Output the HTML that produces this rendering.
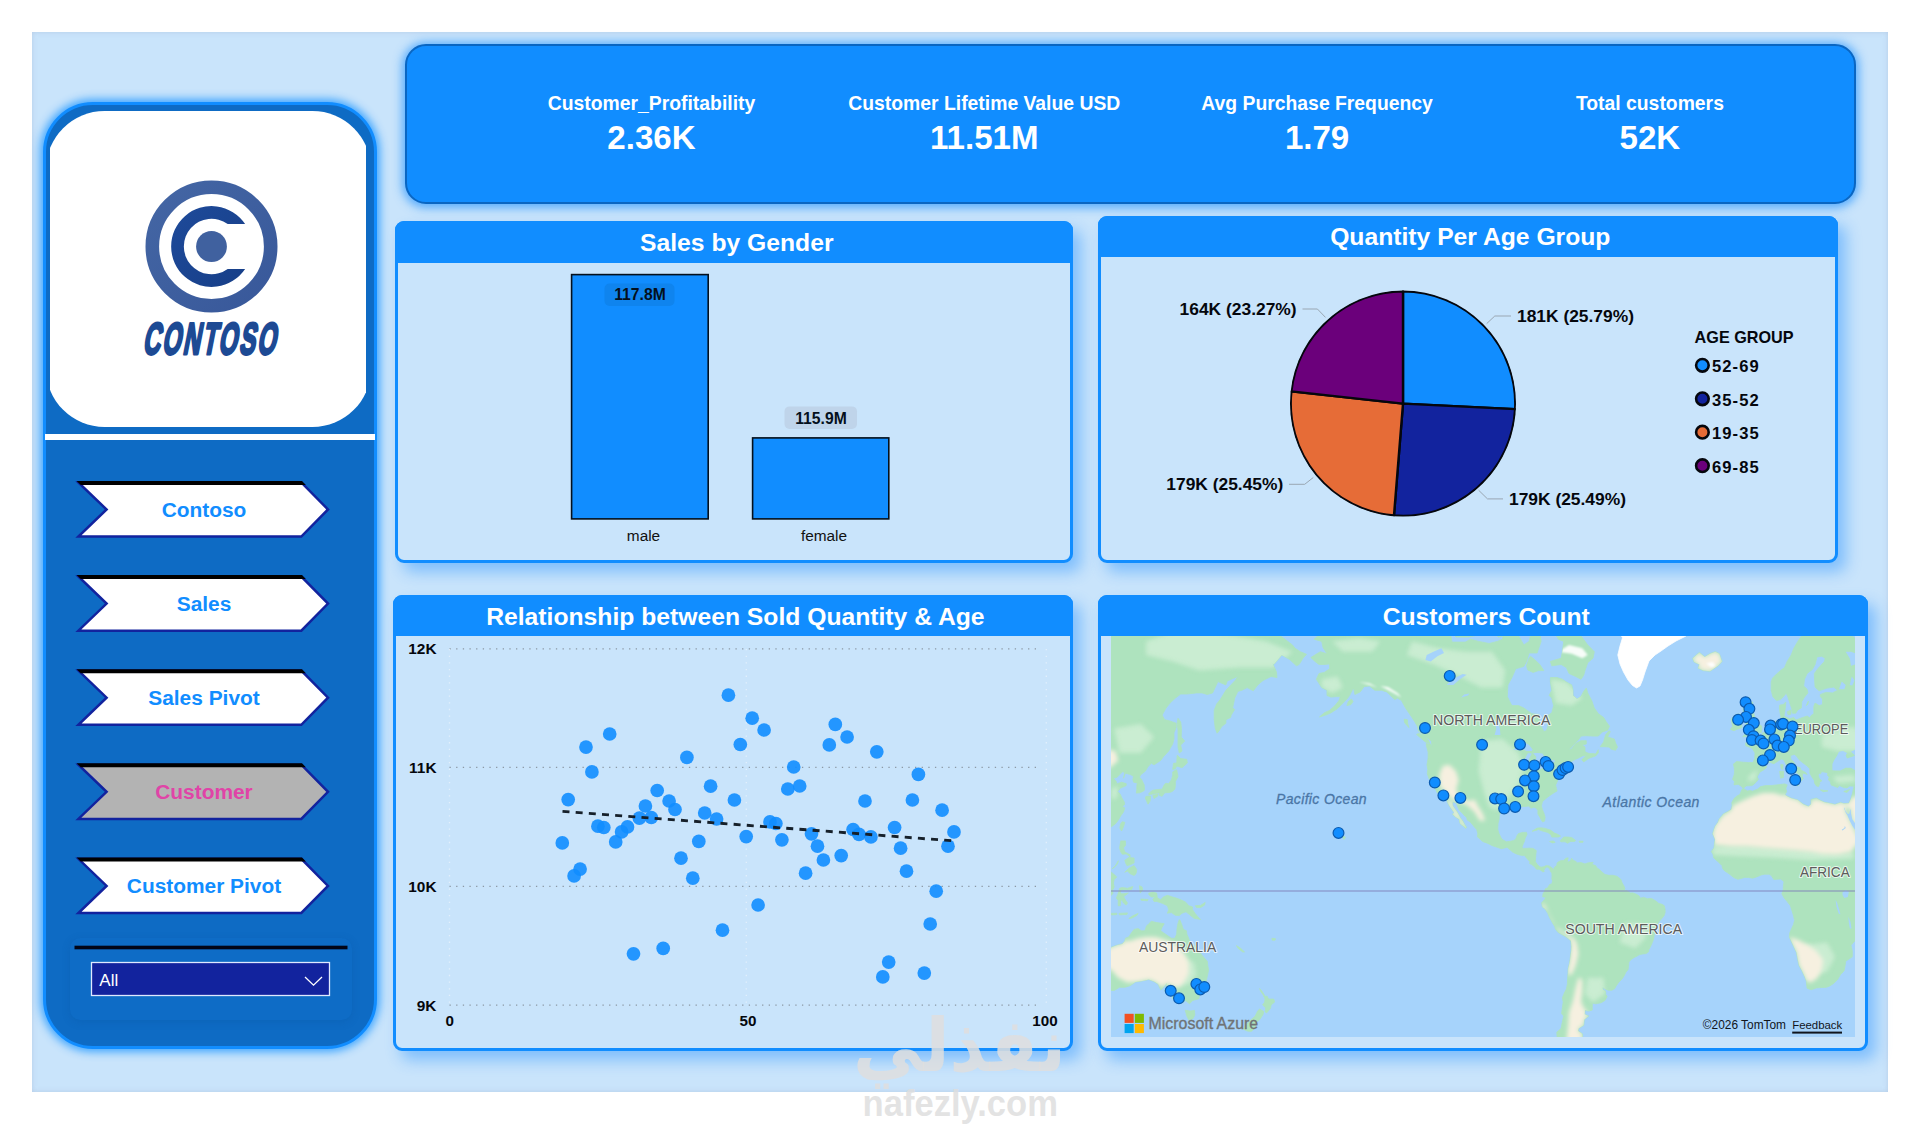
<!DOCTYPE html><html lang="en"><head><meta charset="utf-8"><title>Contoso Customer Dashboard</title>
<style>
*{box-sizing:border-box}
html,body{margin:0;padding:0;background:#fff}
body{width:1920px;height:1124px;position:relative;overflow:hidden;font-family:"Liberation Sans", sans-serif}
.abs{position:absolute}
#panel{left:32px;top:32px;width:1856px;height:1060px;background:#c9e4fb;box-shadow:inset 0 0 5px rgba(150,160,195,.35)}
#side{left:43px;top:102px;width:334px;height:947px;border-radius:50px;background:#0e6bc4;border:3px solid #118DFF;box-shadow:0 0 9px 3px rgba(50,160,255,.9)}
#logo{left:50px;top:111px;width:316px;height:316px;overflow:hidden}
#logo i{position:absolute;left:-4.5px;top:0;width:325px;height:316px;border-radius:58.5px;background:#fff;display:block}
#wline{left:45px;top:434px;width:330px;height:6px;background:#fff}
#slbg{left:70px;top:938px;width:282px;height:82px;border-radius:10px;background:rgba(20,120,215,.10);box-shadow:0 2px 8px rgba(6,70,140,.18)}
#kpi{left:405px;top:44px;width:1451px;height:160px;border-radius:21px;background:#118DFF;border:2px solid #0a66c2;box-shadow:0 1px 10px 3px rgba(40,150,255,.7)}
.card{border:3px solid #118DFF;border-radius:9px;background:#c9e4fb;box-shadow:8px 9px 15px 0 rgba(40,145,255,.46)}
.card b{position:absolute;left:-3px;top:-3px;right:-3px;display:block;background:#118DFF;border-radius:9px 9px 0 0}
</style></head><body>
<div id="panel" class="abs"></div>
<div id="side" class="abs"></div>
<div id="logo" class="abs"><i></i></div>
<div id="wline" class="abs"></div>
<div id="slbg" class="abs"></div>
<div id="kpi" class="abs"></div>
<div class="abs card" style="left:395px;top:221px;width:678px;height:342px"><b style="height:41.5px"></b></div>
<div class="abs card" style="left:1098px;top:216px;width:740px;height:347px"><b style="height:41px"></b></div>
<div class="abs card" style="left:393px;top:595px;width:680px;height:456px"><b style="height:40.5px"></b></div>
<div class="abs card" style="left:1098px;top:595px;width:770px;height:456px"><b style="height:40.5px"></b></div>
<svg width="1920" height="1124" viewBox="0 0 1920 1124" style="position:absolute;left:0;top:0" font-family='"Liberation Sans", sans-serif'>
<defs>
<linearGradient id="ring" x1="0" y1="0" x2="1" y2="1"><stop offset="0" stop-color="#4466a4"/><stop offset="1" stop-color="#38589a"/></linearGradient>
<linearGradient id="cee" x1="0" y1="0" x2="1" y2="1"><stop offset="0" stop-color="#1e4a9a"/><stop offset="1" stop-color="#173f88"/></linearGradient>
</defs>
<g id="logo">
<circle cx="211.5" cy="246.5" r="59.2" fill="none" stroke="url(#ring)" stroke-width="13.6"/>
<path d="M245.1 224A40.4 40.4 0 1 0 245.1 269L227.7 269A27.7 27.7 0 1 1 227.7 224Z" fill="url(#cee)"/>
<circle cx="211.5" cy="246.5" r="15.4" fill="#40619f"/>
<g transform="translate(209.7 353.9) skewX(-11) scale(0.535 1)"><text x="0" y="0" font-size="44.5" font-weight="bold" fill="#1d4a94" stroke="#1d4a94" stroke-width="2.4" vector-effect="non-scaling-stroke" stroke-linejoin="round" text-anchor="middle" letter-spacing="4">CONTOSO</text></g>
</g>
<g id="nav">
<polygon points="78.4,482.4 301.3,482.4 328,509.5 301.3,536.6 78.4,536.6 106.6,509.5" fill="#ffffff" stroke="#12239E" stroke-width="2.5" stroke-linejoin="miter"/>
<polygon points="76.6,481 302,481 305.8,485 80.8,485" fill="#000"/>
<text x="204" y="517" font-size="20.9" font-weight="bold" fill="#118DFF" text-anchor="middle" >Contoso</text>
<polygon points="78.4,576.5 301.3,576.5 328,603.6 301.3,630.7 78.4,630.7 106.6,603.6" fill="#ffffff" stroke="#12239E" stroke-width="2.5" stroke-linejoin="miter"/>
<polygon points="76.6,575.1 302,575.1 305.8,579.1 80.8,579.1" fill="#000"/>
<text x="204" y="611.1" font-size="20.9" font-weight="bold" fill="#118DFF" text-anchor="middle" >Sales</text>
<polygon points="78.4,670.6 301.3,670.6 328,697.7 301.3,724.8 78.4,724.8 106.6,697.7" fill="#ffffff" stroke="#12239E" stroke-width="2.5" stroke-linejoin="miter"/>
<polygon points="76.6,669.2 302,669.2 305.8,673.2 80.8,673.2" fill="#000"/>
<text x="204" y="705.2" font-size="20.9" font-weight="bold" fill="#118DFF" text-anchor="middle" >Sales Pivot</text>
<polygon points="78.4,764.7 301.3,764.7 328,791.8 301.3,818.9 78.4,818.9 106.6,791.8" fill="#b3b3b3" stroke="#12239E" stroke-width="2.5" stroke-linejoin="miter"/>
<polygon points="76.6,763.3 302,763.3 305.8,767.3 80.8,767.3" fill="#000"/>
<text x="204" y="799.3" font-size="20.9" font-weight="bold" fill="#E044A7" text-anchor="middle" >Customer</text>
<polygon points="78.4,858.8 301.3,858.8 328,885.9 301.3,913 78.4,913 106.6,885.9" fill="#ffffff" stroke="#12239E" stroke-width="2.5" stroke-linejoin="miter"/>
<polygon points="76.6,857.4 302,857.4 305.8,861.4 80.8,861.4" fill="#000"/>
<text x="204" y="893.4" font-size="20.9" font-weight="bold" fill="#118DFF" text-anchor="middle" >Customer Pivot</text>
</g>
<g id="slicer">
<rect x="74.5" y="945.7" width="273" height="3.6" fill="#020618"/>
<rect x="91.5" y="962.5" width="238" height="33" fill="#12239E" stroke="#dfe9ff" stroke-width="1.3"/>
<text x="99.3" y="986.2" font-size="17" font-weight="normal" fill="#fff" text-anchor="start" >All</text>
<polyline points="305,977 313.5,985.2 322,977" fill="none" stroke="#fff" stroke-width="1.3"/>
</g>
<g id="kpi-cards">
<text x="651.5" y="110.2" font-size="19.35" font-weight="bold" fill="#fff" text-anchor="middle" >Customer_Profitability</text>
<text x="651.5" y="148.6" font-size="33.1" font-weight="bold" fill="#fff" text-anchor="middle" >2.36K</text>
<text x="984.3" y="110.2" font-size="19.35" font-weight="bold" fill="#fff" text-anchor="middle" >Customer Lifetime Value USD</text>
<text x="984.3" y="148.6" font-size="33.1" font-weight="bold" fill="#fff" text-anchor="middle" >11.51M</text>
<text x="1317.1" y="110.2" font-size="19.35" font-weight="bold" fill="#fff" text-anchor="middle" >Avg Purchase Frequency</text>
<text x="1317.1" y="148.6" font-size="33.1" font-weight="bold" fill="#fff" text-anchor="middle" >1.79</text>
<text x="1649.9" y="110.2" font-size="19.35" font-weight="bold" fill="#fff" text-anchor="middle" >Total customers</text>
<text x="1649.9" y="148.6" font-size="33.1" font-weight="bold" fill="#fff" text-anchor="middle" >52K</text>
</g>
<g id="chart-titles">
<text x="736.8" y="250.6" font-size="24.7" font-weight="bold" fill="#fff" text-anchor="middle" >Sales by Gender</text>
<text x="1470.3" y="245.2" font-size="24.7" font-weight="bold" fill="#fff" text-anchor="middle" >Quantity Per Age Group</text>
<text x="735.4" y="624.5" font-size="24.7" font-weight="bold" fill="#fff" text-anchor="middle" >Relationship between Sold Quantity &amp; Age</text>
<text x="1486.2" y="624.5" font-size="24.7" font-weight="bold" fill="#fff" text-anchor="middle" >Customers Count</text>
</g>
<g id="sales-by-gender">
<rect x="571.6" y="274.6" width="136.6" height="244.3" fill="#118DFF" stroke="#04101c" stroke-width="1.6"/>
<rect x="752.6" y="437.9" width="136.2" height="81" fill="#118DFF" stroke="#04101c" stroke-width="1.6"/>
<rect x="604.5" y="283.5" width="70" height="22.5" rx="5" fill="#0f84ee"/>
<rect x="784.5" y="406.4" width="72.5" height="22.5" rx="5" fill="#bfd4ea"/>
<text x="640" y="300.3" font-size="15.7" font-weight="bold" fill="#04101c" text-anchor="middle" >117.8M</text>
<text x="821" y="423.8" font-size="15.7" font-weight="bold" fill="#04101c" text-anchor="middle" >115.9M</text>
<text x="643.5" y="541" font-size="15.4" font-weight="normal" fill="#111" text-anchor="middle" >male</text>
<text x="824" y="541" font-size="15.4" font-weight="normal" fill="#111" text-anchor="middle" >female</text>
</g>
<g id="quantity-per-age-group">
<clipPath id="pieclip"><circle cx="1403.0" cy="403.6" r="113"/></clipPath><g clip-path="url(#pieclip)">
<path d="M1403 403.6L1403.00 291.30A112.3 112.3 0 0 1 1515.16 409.17Z" fill="#118DFF" stroke="#05070d" stroke-width="2.4" stroke-linejoin="round"/>
<path d="M1403 403.6L1515.16 409.17A112.3 112.3 0 0 1 1393.98 515.54Z" fill="#12239E" stroke="#05070d" stroke-width="2.4" stroke-linejoin="round"/>
<path d="M1403 403.6L1393.98 515.54A112.3 112.3 0 0 1 1291.36 391.42Z" fill="#E66C37" stroke="#05070d" stroke-width="2.4" stroke-linejoin="round"/>
<path d="M1403 403.6L1291.36 391.42A112.3 112.3 0 0 1 1403.00 291.30Z" fill="#6B007B" stroke="#05070d" stroke-width="2.4" stroke-linejoin="round"/>
</g>
<polyline points="1486.7,323.6 1494.8,316 1511,316" fill="none" stroke="#9aa7b3" stroke-width="1"/>
<polyline points="1325.5,317.4 1317.4,309 1302.5,309" fill="none" stroke="#9aa7b3" stroke-width="1"/>
<polyline points="1313.3,477.5 1304.7,484.3 1289,484.3" fill="none" stroke="#9aa7b3" stroke-width="1"/>
<polyline points="1478.6,490.2 1487.5,498.9 1503,498.9" fill="none" stroke="#9aa7b3" stroke-width="1"/>
<text x="1517" y="321.8" font-size="17.4" font-weight="bold" fill="#05070d" text-anchor="start" >181K (25.79%)</text>
<text x="1509" y="505.1" font-size="17.4" font-weight="bold" fill="#05070d" text-anchor="start" >179K (25.49%)</text>
<text x="1296.6" y="315" font-size="17.4" font-weight="bold" fill="#05070d" text-anchor="end" >164K (23.27%)</text>
<text x="1283.3" y="490.2" font-size="17.4" font-weight="bold" fill="#05070d" text-anchor="end" >179K (25.45%)</text>
<text x="1694.6" y="343.3" font-size="16.2" font-weight="bold" fill="#05070d" text-anchor="start" >AGE GROUP</text>
<circle cx="1702.4" cy="365.3" r="6.3" fill="#118DFF" stroke="#05070d" stroke-width="2.6"/>
<text x="1712" y="372.1" font-size="16.6" font-weight="bold" fill="#05070d" text-anchor="start" letter-spacing="1.05">52-69</text>
<circle cx="1702.4" cy="398.8" r="6.3" fill="#12239E" stroke="#05070d" stroke-width="2.6"/>
<text x="1712" y="405.6" font-size="16.6" font-weight="bold" fill="#05070d" text-anchor="start" letter-spacing="1.05">35-52</text>
<circle cx="1702.4" cy="432.2" r="6.3" fill="#E66C37" stroke="#05070d" stroke-width="2.6"/>
<text x="1712" y="439" font-size="16.6" font-weight="bold" fill="#05070d" text-anchor="start" letter-spacing="1.05">19-35</text>
<circle cx="1702.4" cy="465.7" r="6.3" fill="#6B007B" stroke="#05070d" stroke-width="2.6"/>
<text x="1712" y="472.5" font-size="16.6" font-weight="bold" fill="#05070d" text-anchor="start" letter-spacing="1.05">69-85</text>
</g>
<g id="sold-quantity-vs-age">
<line x1="449.5" y1="648.8" x2="1041" y2="648.8" stroke="#8c98a4" stroke-width="1.3" stroke-dasharray="1.3 5.35"/>
<line x1="449.5" y1="767.4" x2="1041" y2="767.4" stroke="#8c98a4" stroke-width="1.3" stroke-dasharray="1.3 5.35"/>
<line x1="449.5" y1="886.4" x2="1041" y2="886.4" stroke="#8c98a4" stroke-width="1.3" stroke-dasharray="1.3 5.35"/>
<line x1="449.5" y1="1005.2" x2="1041" y2="1005.2" stroke="#8c98a4" stroke-width="1.3" stroke-dasharray="1.3 5.35"/>
<line x1="449.5" y1="649" x2="449.5" y2="1005" stroke="#e9f3fd" stroke-width="1.3" stroke-dasharray="1.3 5.35" opacity="0.8"/>
<line x1="746.3" y1="649" x2="746.3" y2="1005" stroke="#e9f3fd" stroke-width="1.3" stroke-dasharray="1.3 5.35" opacity="0.8"/>
<line x1="1046.3" y1="649" x2="1046.3" y2="1005" stroke="#e9f3fd" stroke-width="1.3" stroke-dasharray="1.3 5.35" opacity="0.8"/>
<text x="436.5" y="654.4" font-size="15.4" font-weight="bold" fill="#05070d" text-anchor="end" >12K</text>
<text x="436.5" y="773" font-size="15.4" font-weight="bold" fill="#05070d" text-anchor="end" >11K</text>
<text x="436.5" y="892" font-size="15.4" font-weight="bold" fill="#05070d" text-anchor="end" >10K</text>
<text x="436.5" y="1010.8" font-size="15.4" font-weight="bold" fill="#05070d" text-anchor="end" >9K</text>
<text x="449.8" y="1025.8" font-size="15.2" font-weight="bold" fill="#05070d" text-anchor="middle" >0</text>
<text x="748" y="1025.8" font-size="15.2" font-weight="bold" fill="#05070d" text-anchor="middle" >50</text>
<text x="1045" y="1025.8" font-size="15.2" font-weight="bold" fill="#05070d" text-anchor="middle" >100</text>
<g fill="#118DFF" fill-opacity="0.9">
<circle cx="728.4" cy="695.2" r="6.85"/>
<circle cx="752.2" cy="718.2" r="6.85"/>
<circle cx="764.1" cy="730" r="6.85"/>
<circle cx="740.3" cy="744.5" r="6.85"/>
<circle cx="609.7" cy="734" r="6.85"/>
<circle cx="586" cy="747.1" r="6.85"/>
<circle cx="686.9" cy="757.4" r="6.85"/>
<circle cx="591.9" cy="771.9" r="6.85"/>
<circle cx="710.6" cy="786.2" r="6.85"/>
<circle cx="657.2" cy="790.5" r="6.85"/>
<circle cx="568.2" cy="799.6" r="6.85"/>
<circle cx="669.1" cy="801" r="6.85"/>
<circle cx="734.4" cy="800" r="6.85"/>
<circle cx="787.8" cy="789" r="6.85"/>
<circle cx="793.7" cy="767" r="6.85"/>
<circle cx="645.4" cy="806" r="6.85"/>
<circle cx="675" cy="809.5" r="6.85"/>
<circle cx="704.7" cy="813" r="6.85"/>
<circle cx="639.4" cy="818.2" r="6.85"/>
<circle cx="651.3" cy="817.5" r="6.85"/>
<circle cx="716.6" cy="819" r="6.85"/>
<circle cx="770" cy="821.9" r="6.85"/>
<circle cx="775.9" cy="823.5" r="6.85"/>
<circle cx="746.2" cy="836.6" r="6.85"/>
<circle cx="781.9" cy="839.8" r="6.85"/>
<circle cx="698.8" cy="841.4" r="6.85"/>
<circle cx="597.9" cy="826.2" r="6.85"/>
<circle cx="603.8" cy="827.5" r="6.85"/>
<circle cx="627.5" cy="826.9" r="6.85"/>
<circle cx="621.6" cy="831.9" r="6.85"/>
<circle cx="615.7" cy="841.9" r="6.85"/>
<circle cx="562.3" cy="842.9" r="6.85"/>
<circle cx="681" cy="858.2" r="6.85"/>
<circle cx="580.1" cy="869.1" r="6.85"/>
<circle cx="574.1" cy="875.9" r="6.85"/>
<circle cx="692.8" cy="878.2" r="6.85"/>
<circle cx="758.1" cy="905" r="6.85"/>
<circle cx="722.5" cy="930.2" r="6.85"/>
<circle cx="663.2" cy="948.4" r="6.85"/>
<circle cx="633.5" cy="953.8" r="6.85"/>
<circle cx="835.3" cy="724.4" r="6.85"/>
<circle cx="847.1" cy="737" r="6.85"/>
<circle cx="829.3" cy="744.9" r="6.85"/>
<circle cx="876.8" cy="751.8" r="6.85"/>
<circle cx="918.4" cy="774.4" r="6.85"/>
<circle cx="799.7" cy="786" r="6.85"/>
<circle cx="865" cy="801" r="6.85"/>
<circle cx="912.4" cy="800" r="6.85"/>
<circle cx="942.1" cy="810.2" r="6.85"/>
<circle cx="811.5" cy="833.8" r="6.85"/>
<circle cx="853.1" cy="829.5" r="6.85"/>
<circle cx="859" cy="834.4" r="6.85"/>
<circle cx="870.9" cy="836.9" r="6.85"/>
<circle cx="894.6" cy="827.5" r="6.85"/>
<circle cx="954" cy="831.9" r="6.85"/>
<circle cx="948" cy="846.2" r="6.85"/>
<circle cx="900.6" cy="848.2" r="6.85"/>
<circle cx="817.5" cy="846.2" r="6.85"/>
<circle cx="823.4" cy="860" r="6.85"/>
<circle cx="841.2" cy="855.6" r="6.85"/>
<circle cx="805.6" cy="873.2" r="6.85"/>
<circle cx="906.5" cy="871.2" r="6.85"/>
<circle cx="936.2" cy="891.2" r="6.85"/>
<circle cx="930.2" cy="924" r="6.85"/>
<circle cx="888.7" cy="962.1" r="6.85"/>
<circle cx="882.8" cy="976.9" r="6.85"/>
<circle cx="924.3" cy="973.1" r="6.85"/>
</g>
<line x1="562.5" y1="811.3" x2="953.5" y2="840.9" stroke="#16202a" stroke-width="2.8" stroke-dasharray="7 6.2"/>
</g>
<g id="customers-count-map">
<clipPath id="mapclip"><rect x="1111" y="636" width="744" height="401"/></clipPath>
<clipPath id="landclip"><path d="M1310.8 657.6L1320.3 651.7L1327 653.7L1323 647.6L1321.7 641.4L1314.2 639.2L1324.3 630.4L1341.6 616.1L1358.9 622.6L1382.8 628.8L1398.8 631.9L1417.4 624.9L1425.4 630.4L1438.7 631.1L1450.7 634.8L1452 642.1L1465.3 642.1L1470.6 639.2L1478.6 641.4L1489.2 643.5L1497.2 641.4L1502.5 639.2L1507.9 611.9L1513.2 630.4L1518.5 635.6L1523.8 644.9L1529.1 641.4L1531.8 630.4L1539.8 630.4L1541.1 641.4L1537.1 653L1529.1 653L1526.5 661.4L1523.8 666.4L1515.8 668.8L1511.9 677.6L1507.9 684.9L1507.3 696.6L1510.5 703.1L1511.9 705.6L1518.5 705.6L1523.8 708L1531.8 713.7L1539 714.6L1539.8 724.1L1542.4 728.5L1543.8 731.5L1546.4 730.7L1547.8 726.3L1548.3 719.7L1546.4 716.5L1551.8 712.8L1553.6 705.6L1551.8 698.1L1549.1 695.5L1551.8 690.3L1550.4 682.1L1550.4 677.6L1557.1 677.6L1562.4 679.3L1566.4 682.1L1571.7 684.9L1573 690.3L1573 695.5L1577 699.1L1581 696.6L1583.7 691.3L1586.3 688.1L1587.7 692.9L1591.7 700.6L1594.3 708L1598.3 713.7L1603.6 717.4L1606.3 721.9L1609.5 726.3L1607.6 730.2L1602.3 731.9L1598.3 736.1L1593 736.1L1586.3 735.7L1581 736.1L1578.4 739.8L1574.4 743.9L1570.4 748.2L1568.5 749.8L1571.7 749L1575.7 743.5L1581 740.7L1586.3 740.7L1586.3 743.9L1582.3 745.1L1585 747.1L1585 751.7L1587.7 752.9L1589 753.6L1593 753.6L1595.6 754L1598.3 749.8L1598.3 752.9L1595.6 755.9L1589 758.2L1583.7 761.9L1581.8 759.7L1586.3 755.5L1582.3 755.9L1579.7 757.4L1575.7 759.3L1571.7 761.1L1569.8 764.1L1569.6 765.9L1571.7 767.7L1571.7 768.7L1569 769.5L1566.4 770.2L1561.9 771.6L1561.1 772.6L1561.1 774.7L1559.7 777.1L1558.4 778.5L1557.1 776.5L1558.1 779.2L1557.1 781.9L1555.7 784.9L1555.7 785.3L1556.5 788.9L1557.1 790.9L1554.4 792.5L1551 794.7L1547.8 797L1545.1 799.2L1542.4 801.7L1541.4 805.7L1542.4 809.7L1543.8 812.8L1545.1 817L1544.6 821.1L1542.7 822L1541.1 819.6L1539.8 817L1537.9 814L1537.9 810.3L1535.8 807.9L1533.7 807.3L1531 808.2L1528.6 806.1L1525.2 806.4L1522.5 806.4L1520.1 807L1520.6 809.7L1518 810L1514.5 808.8L1510.5 808.2L1506.5 808.8L1504.4 810.6L1501.2 812.5L1499.3 814.6L1499.1 819.3L1498 823.7L1497.8 829.5L1499.1 833.8L1501.2 838.1L1503.1 840.1L1506.5 841.8L1510.5 841.2L1513.7 840.6L1515.8 838.9L1517.2 835.3L1518.5 833.6L1522.5 832.4L1526.5 832.4L1527 834.4L1525.2 838.1L1524.4 841.5L1523.3 843.7L1522 847L1522.5 848.4L1525.2 848.4L1529.1 848.2L1533.1 848.4L1536.3 850.6L1535.8 854.8L1535.5 858.8L1535.3 861.6L1537.1 864.3L1539.2 866.4L1541.1 867.2L1543.8 866.7L1546.2 865.6L1549.1 865.9L1551.8 867.8L1553.6 869.7L1554.4 867.2L1556.8 865.6L1557.1 862.9L1558.9 861.6L1560.5 860.7L1563.7 860.5L1565.8 858.3L1568.2 857.8L1567.7 859.9L1567.2 862.1L1569 861.8L1570.9 860.2L1571.7 858.3L1573 860.2L1576.2 861.6L1576.5 862.9L1581 862.6L1585 864L1587.7 862.9L1591.7 862.4L1593.2 862.4L1591.7 864.3L1595.6 865.6L1597 868L1598.8 869.1L1602.3 872.3L1605 874.5L1608.9 875.3L1612.9 875.3L1616.9 876.3L1619.6 878.2L1620.9 879.6L1622.2 883L1624.1 886.2L1624.9 888.9L1623.6 891L1626.2 890.5L1628.9 891.8L1630.2 892.9L1632.9 892.9L1636.9 894.5L1639.5 896.3L1640.1 898.2L1643.5 897.4L1647.5 898.7L1651.5 898.5L1655.5 900.8L1658.9 903.5L1662.1 904.3L1664.3 905.7L1665.1 909.7L1665.1 912.6L1664 915.8L1661.3 919.1L1658.9 921.8L1656.8 925.1L1654.7 927.2L1654.2 931.4L1654.2 935.5L1653.6 939.1L1652.3 942.5L1650.7 946.2L1648.8 949.6L1648.8 951.6L1646.2 953.6L1642.7 953.9L1639 954.8L1636.9 956.2L1634.2 957.4L1630.8 959.7L1628.9 962.1L1628.6 965.6L1628.1 969.5L1625.7 972.6L1624.1 975.9L1621.7 979.4L1619 981.9L1615.9 986.3L1614.8 988.6L1611.9 990.2L1608.4 990.2L1605 988.9L1602.6 987.3L1602.8 989.5L1605.5 991.1L1605.7 994.4L1607.1 996.4L1605 1000.4L1601 1002.8L1595.6 1003.8L1592.4 1003.1L1592.2 1007.3L1592.2 1010.1L1588.2 1011.1L1585 1010.1L1584.7 1014.3L1588.7 1016.1L1586.3 1017.9L1584.2 1019.8L1583.7 1025.3L1578.6 1028.4L1578.1 1031L1582.3 1033.8L1582.6 1036.9L1578.4 1042.2L1575.7 1045.9L1573.8 1049.2L1576 1054.8L1574.4 1062.3L1566.4 1062.3L1558.4 1053.5L1557.1 1036.9L1556.8 1032.2L1561.1 1028.4L1562.4 1021.6L1563.7 1016.1L1561.6 1013.6L1562.4 1007.3L1563.2 1002.1L1562.4 997.7L1564.3 993.1L1566.4 988.9L1567.4 984.1L1567.7 977.8L1568 973.2L1568.2 968.6L1569.3 964.1L1570.1 959.7L1570.6 955.3L1571.2 951L1571.4 946.7L1570.9 940.8L1568.2 938.6L1565.1 936.3L1561.1 934.1L1557.9 932.2L1555.2 928.6L1554.9 926.7L1552.8 923.4L1551.2 920.4L1549.6 917.7L1548 913.7L1546.4 911L1545.1 909.1L1542.4 907L1541.9 904.3L1541.6 902.7L1544 900.3L1545.1 899L1545.4 897.1L1542.7 896.9L1543 893.7L1544.8 891L1545.1 888.9L1547.8 887.8L1548.3 886.5L1549.9 884.3L1551.8 884.1L1552.5 880.9L1551.8 879L1552 876.3L1551.8 873.1L1550.7 871.8L1549.6 868.8L1547.8 867.2L1546.4 867.2L1544.6 868.8L1543.8 870.7L1544.3 871.5L1542.7 871.8L1541.1 870.5L1539 869.1L1537.4 869.4L1535.8 868.6L1535 867L1532.6 865.3L1531.5 864.3L1529.7 863.7L1529.9 861.6L1527.8 859.4L1525.2 856.4L1524.9 855.3L1522.5 855.6L1519 854.8L1515.8 853.7L1512.6 852L1509.2 849L1507.1 847.3L1503.9 848.2L1501.2 848.7L1497.2 847.3L1492.4 845.7L1487.9 843.4L1482.6 841.5L1479.9 838.9L1477.3 836.7L1477.8 833.8L1476.7 829.5L1474.6 827.2L1470.6 822.3L1467.2 819.9L1466.6 817.3L1464 815.2L1462.6 813.4L1459.4 810.3L1457.3 805.7L1456.5 803.3L1453.3 802L1452.5 802.6L1452.8 805.7L1456 810.3L1458.1 813.4L1460.5 817.9L1462.6 820.8L1464.5 824.3L1466.6 827.2L1465.6 828.4L1464 826.7L1460 823.5L1459.2 819.3L1455.5 817L1452.5 814.3L1454.1 812.5L1452 809.7L1449.9 806.7L1448 803.3L1446.4 799.5L1445.9 797.9L1443.2 795.7L1442.7 794.7L1440 793.4L1437.1 792.8L1436 789.9L1433.6 786.3L1432.3 783.3L1432.1 782.2L1430.7 780.6L1428.9 778.2L1427.3 773.7L1427.8 769.5L1427 764.8L1428.1 758.5L1428.1 752.1L1426.5 745.9L1426.2 743.5L1430.7 744.3L1432.1 747.1L1431.3 741.1L1429.9 739.8L1425.9 737L1421.4 733.6L1418.2 730.7L1417.4 726.3L1414.8 721.9L1411.6 716.9L1409.4 713.7L1405.5 708L1401.5 700.6L1397.5 698.1L1394.8 699.6L1391.4 696.6L1386.8 691.9L1381.5 690.3L1374.9 690.3L1369.5 686L1364.2 686.5L1360.2 691.9L1354.9 694.5L1353.6 687.6L1357.6 683.8L1352.2 690.3L1349.6 695.5L1346.9 699.1L1341.6 704.6L1336.3 709.4L1331 712.8L1325.7 715.1L1319.5 716.9L1324.3 712.8L1329.6 710.4L1335 705.6L1339 700.6L1340.3 696.6L1336.3 696.6L1331 697.1L1327 695.5L1327 690.3L1321.7 687.6L1318.2 682.1L1316.3 679.3L1319 673.5L1324.3 672.4L1329.6 668.8L1329.6 663.9L1324.3 664.5L1319 664.5L1315 661.4ZM1429.9 743.5L1425.4 741.9L1421.4 738.6L1416.6 734.5L1418.8 733.2L1424.1 736.1L1428.1 739.8ZM1408.9 727.6L1404.7 722.8L1404.1 719.2L1407.3 719.7L1407.8 724.1ZM1346.9 705.6L1350.9 704.6L1353 701.6L1351.5 699.1L1348.3 701.6ZM1600.2 746.7L1603.6 741.9L1605.5 734.9L1608.9 730.7L1610.3 731.5L1607.6 737L1610.3 737.8L1614.3 739L1615.6 743.1L1617.5 747.1L1615.6 750.2L1611.6 749.4L1608.9 747.1L1605 746.7ZM1532.1 831.3L1537.1 828.1L1541.1 827.8L1545.1 828.4L1550.4 830.1L1554.4 833L1558.4 834.7L1560.5 836.1L1558.4 837L1551.8 837L1551 834.7L1547.8 832.4L1542.4 831L1538.5 829.5L1535.8 830.4ZM1560 840.9L1563.7 837L1567.7 837L1571.7 837.5L1575.7 840.6L1574.4 841.5L1570.4 841.5L1567.7 843.2L1565.1 841.8L1561.1 841.8ZM1549.6 841.5L1553.1 840.9L1555.2 842.3L1552.5 842.9ZM1579.1 841.2L1583.1 841.2L1582.9 842.3L1579.4 842.3ZM1594.3 651.7L1593 658.2L1587.7 662.7L1585 670.6L1583.7 675.3L1581 679.3L1575.7 676.5L1569 673.5L1566.4 667.6L1561.1 664.5L1551.8 665.8L1550.4 661.4L1561.1 658.2L1562.4 651.7L1563.7 641.4L1558.4 639.2L1553.1 630.4L1545.1 626.5L1531.8 622.6L1521.2 618.5L1518.5 601.3L1545.1 596.7L1558.4 605.8L1571.7 618.5L1577 626.5L1579.7 634.1L1587.7 644.9ZM1530.5 656.3L1534.5 659.5L1539.8 664.5L1543.8 670.6L1538.5 670.6L1533.1 672.4L1527.8 670L1526.5 665.8L1529.1 658.2ZM1445.4 622.6L1452 631.9L1456 637.1L1468 637.1L1478.6 634.8L1486.6 634.1L1489.2 626.5L1478.6 605.8L1446.7 601.3ZM1493.2 632.6L1498.6 637.1L1503.9 635.6L1502.5 628.1L1495.9 627.3ZM1743 788.2L1740.9 785.9L1738.2 784.3L1734 784.9L1734.5 781.6L1732.6 779.2L1734.2 774.7L1734.5 771.2L1734.2 767.7L1733.4 764.1L1736.6 761.5L1743.3 762.2L1748.6 762.6L1753.1 762.6L1754.7 758.5L1755 752.9L1752 748.2L1745.9 745.9L1745.4 743.1L1749.9 741.9L1753.9 742.7L1753.1 738.2L1755.2 739.4L1758.4 739L1761.9 736.1L1762.2 733.2L1764.6 732.4L1767.2 730.7L1769.1 727.6L1770.7 724.1L1773.9 721.9L1777.1 721L1780.5 721.5L1781.3 718.3L1780 712.8L1779.4 708L1779.7 705.1L1783.2 704.6L1785.8 702.1L1785.3 708L1784.5 712.8L1784 716L1787.2 717.8L1789.8 718.8L1793.8 717.4L1795.9 720.1L1800.5 718.3L1807.1 716L1809.8 717.8L1811.1 715.6L1813.8 713.7L1813.8 706.5L1815.1 703.1L1819.1 705.6L1822.5 704.6L1822.5 699.1L1820.4 696.6L1820.4 694.5L1825.7 692.4L1832.4 692.9L1837.7 690.3L1833.7 687.1L1827.1 688.1L1819.1 690.8L1815.1 687.1L1814.6 680.4L1814.3 673.5L1817.8 668.8L1824.4 661.4L1825.2 658.2L1821.7 656.3L1817 656.9L1815.1 664.5L1812.4 669.4L1807.1 673.5L1804.5 679.3L1803.7 686L1807.1 689.2L1807.9 692.9L1804.5 697.1L1801.8 701.6L1801.3 708L1797.8 709.9L1795.7 713.2L1792.5 713.2L1791.9 709L1789.8 703.1L1787.7 696.6L1786.1 692.9L1784.5 695.5L1780.5 699.6L1776.5 700.6L1772.8 696.6L1771.2 690.3L1771.2 682.1L1772.5 678.2L1776.5 674.1L1780.5 670.6L1784.5 667.6L1787.2 661.4L1791.2 655L1793.8 648.3L1797.8 641.4L1801.8 635.6L1807.1 630.4L1826.5 617.7L1837.7 626.5L1845.7 630.4L1867 648.3L1917.5 626.5L1917.5 923.2L1865.6 920.4L1865.9 931.4L1861.6 936.9L1855.8 939.7L1851 945.3L1852.3 951L1852.3 956.8L1845.7 961.2L1845.1 965.6L1844.1 970.8L1840.4 974.7L1837.7 979.4L1833.7 983.4L1829.7 986L1826.3 987.3L1820.4 987.6L1816.4 987.9L1811.1 989.8L1807.1 988.2L1806.6 984.1L1806.3 980.9L1804.5 976.3L1801.8 970.4L1799.1 965.6L1797.8 959.7L1796.5 952.5L1793.8 946.7L1791.2 941.1L1789.3 936.9L1789.8 932.7L1793.5 924.5L1794.6 920.4L1793.3 915L1791.2 908.3L1790.4 905.7L1787.2 901.6L1784 897.7L1781.8 893.7L1783.2 889.7L1783.4 885.7L1784 881.7L1781.8 879.8L1780.5 879L1776.5 879.3L1773.9 879.6L1771.2 875.5L1769.3 874.2L1764.6 874.2L1761.1 875L1756.6 876.9L1752.6 878.2L1748.6 877.4L1744.6 877.4L1738 879.3L1734 877.7L1730 874.5L1727.3 872.6L1724.7 871L1722.5 868.3L1722 865.6L1719.3 862.9L1718 861.6L1715.3 859.4L1713.5 857.5L1713.2 854.8L1711.4 851.5L1714 847.9L1714.5 843.7L1715.1 839.5L1714 836.7L1712.7 833.8L1714 829.5L1715.3 826.1L1718 822.3L1719.3 818.7L1722 815.8L1723.3 814L1727.3 811.9L1731.3 809.4L1732.1 805.7L1731.8 802.6L1734 798.6L1736.6 796.3L1739.8 794.4L1741.9 789.9L1742.2 788.9L1743.8 788.6L1747.3 790.9L1750.2 790.5L1752.6 791.2L1757.9 788.9L1760.6 786.6L1765.9 785.6L1771.2 785.6L1776.5 784.9L1781.8 784.3L1784.5 783.9L1787.2 784.9L1785.8 788.2L1786.6 791.5L1785 794.7L1787.2 796.3L1791.2 798.2L1797.8 800.1L1803.1 804.2L1808.4 806.4L1811.1 804.2L1811.1 799.5L1816.4 798.2L1820.4 800.4L1824.4 802.3L1829.7 803.3L1835 804.5L1840.4 802.6L1843.8 803.6L1848.9 803.3L1851 798.6L1852.6 793.1L1853.4 788.9L1854.2 786.3L1849.7 785.9L1847 787.9L1843.8 787.6L1839.6 785.6L1837.7 787.6L1833.7 785.9L1831.1 784.9L1830.3 781.6L1828.4 779.9L1829.2 777.1L1827.6 775.4L1827.6 773.7L1827.1 772.6L1821.7 771.6L1820.4 774L1819.1 773L1818.3 775.4L1819.1 778.2L1821.7 780.9L1819.6 781.9L1819.6 783.9L1818.5 786.6L1816.4 785.9L1814.6 783.3L1814.3 780.6L1811.6 776.5L1809.8 773L1809.8 768.7L1807.1 765.9L1803.1 763L1799.1 759.7L1796.5 755.9L1794.3 754.4L1790.6 755.5L1790.9 759.3L1793.8 761.9L1795.7 766.2L1800.5 768L1800.5 769.8L1805.8 772.6L1807.1 774.4L1803.1 773L1802.1 776.1L1803.4 778.5L1800.7 781.6L1799.7 781.6L1799.9 778.2L1799.1 774.7L1796.5 772.6L1792.5 770.5L1790.4 768.4L1787.2 766.2L1785.3 763L1784 760L1781.3 758.9L1777.9 761.1L1773.9 763.7L1770.7 762.6L1768 762.2L1765.9 764.1L1766.4 767.7L1763.2 770.2L1760 771.9L1757.9 775.4L1757.1 777.1L1758.4 779.2L1756 782.2L1753.1 784.9L1751.8 785.6L1746.2 785.9L1743.8 787.9ZM1742.7 737L1748.6 735.7L1755.2 734L1761.4 732.4L1761.9 726.3L1758.7 724.1L1757.9 721L1754.7 716.9L1753.6 712.8L1751.2 710.4L1752.6 704.1L1752.6 702.1L1748.6 702.1L1747.3 700.6L1749.9 697.6L1744.6 697.6L1742.5 703.1L1743.3 708L1743.3 712.8L1745.1 716L1748.6 715.6L1749.9 719.7L1749.9 722.4L1745.9 722.8L1745.9 725L1746.7 727.6L1744.1 729.4L1747.3 730.7L1749.9 731.5L1745.9 732.8ZM1741.9 727.6L1741.4 722.8L1742.5 717.4L1740.6 714.2L1736.6 714.2L1731.3 718.8L1731.8 722.8L1732.6 726.3L1730.5 729.4L1734 730.7L1736.6 729.4ZM1791.2 781.6L1799.4 780.9L1798.1 785.9L1791.2 782.9ZM1779.7 771.2L1783.7 771.2L1783.4 777.5L1780.5 778.2ZM1780.8 764.4L1783.2 764.8L1782.6 769.8L1781 768.4ZM1820.4 789.9L1827.9 790.9L1823.1 791.7ZM1843.8 791.5L1849.7 789.5L1847 792.5ZM1787.2 711.8L1791.2 709.9L1790.9 714.2L1788 714.6ZM1806.3 705.6L1808.4 701.1L1807.9 704.1ZM1342.7 836.1L1345.6 837.3L1344 839.5L1342.9 837.8ZM1692.7 658.2L1699.4 652.4L1704.7 656.9L1710 653.7L1715.3 651.7L1719.3 653.7L1722 661.4L1718 665.8L1710 671.2L1703.4 670.6L1698.1 668.2L1699.4 664.5L1694.1 662ZM1066.3 571.4L1092.9 591.9L1146.1 618.5L1172.7 605.8L1199.3 618.5L1225.9 628.8L1252.5 630.4L1268.5 630.4L1279.1 634.8L1292.4 644.9L1295.1 648.3L1300.4 651.7L1306.5 654.3L1303 658.2L1299.1 664.5L1296.4 665.8L1289.7 659.5L1281.8 655L1276.4 661.4L1273.8 664.5L1272.5 663.3L1276.4 671.8L1277 677.6L1271.1 676.5L1263.1 680.4L1257.8 684.9L1253.3 690.8L1247.2 687.6L1241.9 690.3L1237.9 691.3L1234.7 698.1L1233.9 702.1L1232.6 708L1234.7 709.4L1231.2 715.1L1230.7 717.4L1225.9 719.7L1225.9 723.3L1221.9 726.3L1219.2 730.7L1217.1 733.2L1215.3 728.5L1214.2 719.7L1214.2 710.4L1216.6 704.1L1220.6 699.1L1225.9 690.3L1229.9 686L1235.2 680.4L1237.9 676.5L1231.2 679.3L1227.2 681L1225.9 684.9L1217.9 681.6L1212.6 692.9L1207.3 694.5L1202 692.9L1196.6 692.9L1187.3 694L1180.7 694L1175.4 698.1L1170 703.1L1166.1 708L1162.1 715.1L1164.7 719.7L1168.7 720.6L1172.7 721.9L1176.2 723.3L1176.2 727.6L1174 732.8L1174 739L1172.7 743.9L1168.7 751L1163.4 756.7L1160.7 760.4L1154.1 764.8L1151.4 763.3L1148 766.6L1145.3 771.2L1140.8 774.7L1139.5 777.1L1141.6 779.5L1144.2 784.9L1144.5 789.9L1143.4 791.2L1139.5 792.8L1136.3 793.1L1136.8 789.9L1136.8 785.9L1137.3 782.9L1133.6 782.2L1132.8 779.2L1133.6 776.5L1130.9 774.7L1124.8 773L1123.5 778.2L1125.4 773L1122.7 771.6L1116.8 777.5L1113.4 778.2L1116.3 781.6L1116.8 783.9L1121.4 782.2L1126.2 783.6L1126.2 785.6L1120.3 788.2L1117.6 791.5L1120 793.8L1121.9 797.9L1124.3 802L1124.6 804.5L1122.2 806.4L1124.8 807.9L1123.5 811.9L1120.8 815.8L1118.4 819.9L1116 823.2L1113.6 825.2L1110.7 827.2L1106.2 829L1102.2 830.4L1092.9 833.8L1066.3 833.8ZM1176.7 769.8L1178 776.5L1175.4 781.6L1175.4 785.6L1174.8 789.2L1172.2 791.5L1169.5 792.5L1164.7 792.8L1162.1 796.3L1159.4 795.4L1159.4 792.8L1154.1 793.8L1148.8 794.7L1148.8 793.4L1152.8 790.2L1158.1 789.5L1162.1 789.2L1164.2 784.9L1165.5 783.3L1168.7 783.6L1171.4 779.9L1172.7 775.4L1172.7 771.9L1175.4 770.2ZM1172.7 769.5L1173.5 763.3L1176.7 763L1177.2 755.2L1180.7 758.5L1186.8 759.3L1187.3 763L1182 767.7L1176.7 765.9L1175.4 768.7ZM1146.1 796.3L1150.6 796L1150.1 801.1L1148 804.2L1146.6 801.1L1145.3 797.9ZM1152.8 795.4L1158.1 794.1L1157.5 796.3L1154.1 798.6ZM1178 718.3L1180.7 721.9L1181.5 728.5L1181.2 737L1184.7 741.1L1180.7 745.1L1182 751L1179.3 752.9L1178 747.1L1178 739L1178 730.7L1177.2 722.8ZM1122.2 821.7L1124.8 822.3L1123.5 826.7L1121.6 831L1119.8 828.1L1120.8 823.7ZM1120.8 840.9L1125.4 840.9L1125.6 845.1L1123.5 847.9L1124.8 852L1130.1 854.8L1130.1 856.7L1126.2 853.9L1122.2 854.2L1120.8 852L1119.5 847.9L1120.3 843.7ZM1124.8 872.3L1128.8 868.3L1134.1 865.6L1136.8 869.7L1136 873.7L1134.1 875.5L1130.1 873.7L1127.5 871ZM1124.8 860.2L1128.8 857.5L1134.1 858L1134.1 862.9L1130.1 864.8L1126.9 865.6L1125.6 862.9ZM1112.1 868.8L1115.5 865.6L1118.4 860.7L1117.6 863.7L1114.2 867.5ZM1111.5 872.3L1116.8 876.9L1114.2 879.6L1113.4 883L1114.2 887L1112.8 889.7L1112.8 893.7L1110.2 896.3L1109.4 900.3L1104.9 901.6L1092.9 899L1090.2 887L1095.6 885.7L1100.9 881.7L1106.2 877.7L1108.9 873.7ZM1119.5 888.3L1122.2 887.5L1127.5 888.3L1132.8 886.5L1131.5 889.7L1127.5 889.7L1122.2 889.7L1120 891L1120.8 893.7L1123.5 893.7L1128.3 893.1L1124.8 895.8L1123.5 896.3L1125.6 900.3L1127.5 903L1126.2 905.1L1123.5 903L1121.6 899L1120.6 901.6L1120.3 905.7L1118.2 905.7L1118.2 900.3L1116.3 898.2L1117.6 895L1119 891ZM1148.8 893.1L1152.8 892.1L1156.7 893.1L1157.3 897.7L1160.7 899.8L1163.4 896.9L1167.4 895.3L1172.7 897.1L1176.7 898.2L1182 900.3L1186 902.4L1188.7 905.7L1192.7 907L1192.1 909.1L1195.3 913.7L1199.3 918.5L1200.6 919.4L1194 918.3L1190 915L1186 911.8L1182 913.2L1179.3 915.6L1175.4 915.3L1171.4 912.6L1167.4 913.2L1168.7 909.7L1167.4 905.7L1162.1 903.2L1156.7 901.4L1154.1 901.6L1152.8 899L1155.4 897.1L1151.4 896.9L1148.8 894.7ZM1195.3 905.7L1200.6 905.4L1205.2 902.4L1204.6 905.1L1200.6 907.5L1196.6 907.5ZM1111 913.4L1116.8 913.2L1116.8 914.5L1111.5 915ZM1119 913.4L1127.5 912.9L1126.9 914.5L1119.5 914.8ZM1128.8 918.5L1132.8 915.8L1138.1 913.4L1136.8 915.6L1131.5 918.3ZM1139.5 885.7L1142.1 887L1142.6 890.2L1140.2 892.9L1139.7 888.9ZM1140.8 899L1148.2 899.5L1147.4 900.8L1141.3 900.3ZM1103.5 951L1102.2 956.8L1102.2 962.7L1104.9 970.1L1106.2 976.3L1108.1 980.9L1106.2 988.2L1110.2 990.5L1114.2 990.5L1119.5 987.3L1124.8 987.3L1130.1 985.7L1135.5 981.9L1142.1 980.9L1148.8 979.4L1154.1 981.6L1158.1 984.1L1160.7 989.8L1162.1 988.9L1166.1 984.1L1166.8 982.8L1166.1 987.3L1164.7 991.1L1167.4 988.9L1168.7 992.1L1171.4 993.8L1172.7 998.7L1176.7 1001.4L1182 1003.1L1185.5 1000.4L1189.5 1003.8L1192.7 1000.4L1198.8 998.7L1199.8 993.8L1201.4 989.8L1202.8 986.6L1206 981.9L1207.3 976.3L1208.6 970.1L1207.8 965.6L1207.3 961.2L1204.6 958.3L1202 955.3L1199.3 951.9L1196.6 948.2L1194 945.3L1190 942.5L1188.7 938.3L1186.8 934.1L1186.5 930.8L1183.3 929.4L1182 925.3L1180.1 920.4L1179.3 919.6L1178 923.2L1177 928.6L1176.7 934.1L1174.8 938.3L1171.4 938.3L1167.4 935.5L1163.4 932.7L1160.7 930.8L1162.1 927.2L1164.2 923.7L1160.7 923.2L1155.4 922.3L1151.4 921.3L1148.8 923.7L1146.6 925.9L1144.8 930.8L1141.3 930.8L1138.1 928.6L1134.1 929.4L1131.5 932.7L1128.8 936.9L1125.4 938.3L1124.8 941.1L1122.2 943.9L1116.8 945.3L1111.5 947.3L1107.5 949.6ZM1185.2 1010.1L1190 1011.1L1194.5 1010.4L1194.8 1015L1192.7 1019L1188.7 1019.8L1186.8 1016.1ZM1259.7 988.6L1261.8 991.1L1265.3 996.4L1267.1 996.1L1268.5 999.1L1273.8 999.1L1274.6 1002.1L1271.1 1004.9L1270.6 1008.3L1266.6 1012.9L1265 1011.8L1265.8 1008L1262.6 1004.9L1264.7 1002.1L1265 998.7L1263.1 994.8L1260.5 991.1ZM1259.7 1009L1263.7 1011.5L1263.1 1014.3L1259.9 1019.4L1256 1022.7L1254.6 1028.4L1251.2 1031.4L1247.2 1031L1243.2 1029.1L1245.8 1024.6L1249.8 1020.9L1255.2 1016.1L1257.8 1010.8ZM1236.5 945.6L1240.5 948.2L1244.5 951.9L1242.7 951.9L1237.9 948.2ZM1271.9 938.3L1275.4 938.6L1275.1 940.2L1272.2 940.2Z"/></clipPath>
<filter id="soft" x="-5%" y="-5%" width="110%" height="110%"><feGaussianBlur stdDeviation="2"/></filter><filter id="soft1" x="-5%" y="-5%" width="110%" height="110%"><feGaussianBlur stdDeviation="1"/></filter>
<g clip-path="url(#mapclip)">
<rect x="1111" y="636" width="744" height="401" fill="#a6d3fb"/>
<path d="M1310.8 657.6L1320.3 651.7L1327 653.7L1323 647.6L1321.7 641.4L1314.2 639.2L1324.3 630.4L1341.6 616.1L1358.9 622.6L1382.8 628.8L1398.8 631.9L1417.4 624.9L1425.4 630.4L1438.7 631.1L1450.7 634.8L1452 642.1L1465.3 642.1L1470.6 639.2L1478.6 641.4L1489.2 643.5L1497.2 641.4L1502.5 639.2L1507.9 611.9L1513.2 630.4L1518.5 635.6L1523.8 644.9L1529.1 641.4L1531.8 630.4L1539.8 630.4L1541.1 641.4L1537.1 653L1529.1 653L1526.5 661.4L1523.8 666.4L1515.8 668.8L1511.9 677.6L1507.9 684.9L1507.3 696.6L1510.5 703.1L1511.9 705.6L1518.5 705.6L1523.8 708L1531.8 713.7L1539 714.6L1539.8 724.1L1542.4 728.5L1543.8 731.5L1546.4 730.7L1547.8 726.3L1548.3 719.7L1546.4 716.5L1551.8 712.8L1553.6 705.6L1551.8 698.1L1549.1 695.5L1551.8 690.3L1550.4 682.1L1550.4 677.6L1557.1 677.6L1562.4 679.3L1566.4 682.1L1571.7 684.9L1573 690.3L1573 695.5L1577 699.1L1581 696.6L1583.7 691.3L1586.3 688.1L1587.7 692.9L1591.7 700.6L1594.3 708L1598.3 713.7L1603.6 717.4L1606.3 721.9L1609.5 726.3L1607.6 730.2L1602.3 731.9L1598.3 736.1L1593 736.1L1586.3 735.7L1581 736.1L1578.4 739.8L1574.4 743.9L1570.4 748.2L1568.5 749.8L1571.7 749L1575.7 743.5L1581 740.7L1586.3 740.7L1586.3 743.9L1582.3 745.1L1585 747.1L1585 751.7L1587.7 752.9L1589 753.6L1593 753.6L1595.6 754L1598.3 749.8L1598.3 752.9L1595.6 755.9L1589 758.2L1583.7 761.9L1581.8 759.7L1586.3 755.5L1582.3 755.9L1579.7 757.4L1575.7 759.3L1571.7 761.1L1569.8 764.1L1569.6 765.9L1571.7 767.7L1571.7 768.7L1569 769.5L1566.4 770.2L1561.9 771.6L1561.1 772.6L1561.1 774.7L1559.7 777.1L1558.4 778.5L1557.1 776.5L1558.1 779.2L1557.1 781.9L1555.7 784.9L1555.7 785.3L1556.5 788.9L1557.1 790.9L1554.4 792.5L1551 794.7L1547.8 797L1545.1 799.2L1542.4 801.7L1541.4 805.7L1542.4 809.7L1543.8 812.8L1545.1 817L1544.6 821.1L1542.7 822L1541.1 819.6L1539.8 817L1537.9 814L1537.9 810.3L1535.8 807.9L1533.7 807.3L1531 808.2L1528.6 806.1L1525.2 806.4L1522.5 806.4L1520.1 807L1520.6 809.7L1518 810L1514.5 808.8L1510.5 808.2L1506.5 808.8L1504.4 810.6L1501.2 812.5L1499.3 814.6L1499.1 819.3L1498 823.7L1497.8 829.5L1499.1 833.8L1501.2 838.1L1503.1 840.1L1506.5 841.8L1510.5 841.2L1513.7 840.6L1515.8 838.9L1517.2 835.3L1518.5 833.6L1522.5 832.4L1526.5 832.4L1527 834.4L1525.2 838.1L1524.4 841.5L1523.3 843.7L1522 847L1522.5 848.4L1525.2 848.4L1529.1 848.2L1533.1 848.4L1536.3 850.6L1535.8 854.8L1535.5 858.8L1535.3 861.6L1537.1 864.3L1539.2 866.4L1541.1 867.2L1543.8 866.7L1546.2 865.6L1549.1 865.9L1551.8 867.8L1553.6 869.7L1554.4 867.2L1556.8 865.6L1557.1 862.9L1558.9 861.6L1560.5 860.7L1563.7 860.5L1565.8 858.3L1568.2 857.8L1567.7 859.9L1567.2 862.1L1569 861.8L1570.9 860.2L1571.7 858.3L1573 860.2L1576.2 861.6L1576.5 862.9L1581 862.6L1585 864L1587.7 862.9L1591.7 862.4L1593.2 862.4L1591.7 864.3L1595.6 865.6L1597 868L1598.8 869.1L1602.3 872.3L1605 874.5L1608.9 875.3L1612.9 875.3L1616.9 876.3L1619.6 878.2L1620.9 879.6L1622.2 883L1624.1 886.2L1624.9 888.9L1623.6 891L1626.2 890.5L1628.9 891.8L1630.2 892.9L1632.9 892.9L1636.9 894.5L1639.5 896.3L1640.1 898.2L1643.5 897.4L1647.5 898.7L1651.5 898.5L1655.5 900.8L1658.9 903.5L1662.1 904.3L1664.3 905.7L1665.1 909.7L1665.1 912.6L1664 915.8L1661.3 919.1L1658.9 921.8L1656.8 925.1L1654.7 927.2L1654.2 931.4L1654.2 935.5L1653.6 939.1L1652.3 942.5L1650.7 946.2L1648.8 949.6L1648.8 951.6L1646.2 953.6L1642.7 953.9L1639 954.8L1636.9 956.2L1634.2 957.4L1630.8 959.7L1628.9 962.1L1628.6 965.6L1628.1 969.5L1625.7 972.6L1624.1 975.9L1621.7 979.4L1619 981.9L1615.9 986.3L1614.8 988.6L1611.9 990.2L1608.4 990.2L1605 988.9L1602.6 987.3L1602.8 989.5L1605.5 991.1L1605.7 994.4L1607.1 996.4L1605 1000.4L1601 1002.8L1595.6 1003.8L1592.4 1003.1L1592.2 1007.3L1592.2 1010.1L1588.2 1011.1L1585 1010.1L1584.7 1014.3L1588.7 1016.1L1586.3 1017.9L1584.2 1019.8L1583.7 1025.3L1578.6 1028.4L1578.1 1031L1582.3 1033.8L1582.6 1036.9L1578.4 1042.2L1575.7 1045.9L1573.8 1049.2L1576 1054.8L1574.4 1062.3L1566.4 1062.3L1558.4 1053.5L1557.1 1036.9L1556.8 1032.2L1561.1 1028.4L1562.4 1021.6L1563.7 1016.1L1561.6 1013.6L1562.4 1007.3L1563.2 1002.1L1562.4 997.7L1564.3 993.1L1566.4 988.9L1567.4 984.1L1567.7 977.8L1568 973.2L1568.2 968.6L1569.3 964.1L1570.1 959.7L1570.6 955.3L1571.2 951L1571.4 946.7L1570.9 940.8L1568.2 938.6L1565.1 936.3L1561.1 934.1L1557.9 932.2L1555.2 928.6L1554.9 926.7L1552.8 923.4L1551.2 920.4L1549.6 917.7L1548 913.7L1546.4 911L1545.1 909.1L1542.4 907L1541.9 904.3L1541.6 902.7L1544 900.3L1545.1 899L1545.4 897.1L1542.7 896.9L1543 893.7L1544.8 891L1545.1 888.9L1547.8 887.8L1548.3 886.5L1549.9 884.3L1551.8 884.1L1552.5 880.9L1551.8 879L1552 876.3L1551.8 873.1L1550.7 871.8L1549.6 868.8L1547.8 867.2L1546.4 867.2L1544.6 868.8L1543.8 870.7L1544.3 871.5L1542.7 871.8L1541.1 870.5L1539 869.1L1537.4 869.4L1535.8 868.6L1535 867L1532.6 865.3L1531.5 864.3L1529.7 863.7L1529.9 861.6L1527.8 859.4L1525.2 856.4L1524.9 855.3L1522.5 855.6L1519 854.8L1515.8 853.7L1512.6 852L1509.2 849L1507.1 847.3L1503.9 848.2L1501.2 848.7L1497.2 847.3L1492.4 845.7L1487.9 843.4L1482.6 841.5L1479.9 838.9L1477.3 836.7L1477.8 833.8L1476.7 829.5L1474.6 827.2L1470.6 822.3L1467.2 819.9L1466.6 817.3L1464 815.2L1462.6 813.4L1459.4 810.3L1457.3 805.7L1456.5 803.3L1453.3 802L1452.5 802.6L1452.8 805.7L1456 810.3L1458.1 813.4L1460.5 817.9L1462.6 820.8L1464.5 824.3L1466.6 827.2L1465.6 828.4L1464 826.7L1460 823.5L1459.2 819.3L1455.5 817L1452.5 814.3L1454.1 812.5L1452 809.7L1449.9 806.7L1448 803.3L1446.4 799.5L1445.9 797.9L1443.2 795.7L1442.7 794.7L1440 793.4L1437.1 792.8L1436 789.9L1433.6 786.3L1432.3 783.3L1432.1 782.2L1430.7 780.6L1428.9 778.2L1427.3 773.7L1427.8 769.5L1427 764.8L1428.1 758.5L1428.1 752.1L1426.5 745.9L1426.2 743.5L1430.7 744.3L1432.1 747.1L1431.3 741.1L1429.9 739.8L1425.9 737L1421.4 733.6L1418.2 730.7L1417.4 726.3L1414.8 721.9L1411.6 716.9L1409.4 713.7L1405.5 708L1401.5 700.6L1397.5 698.1L1394.8 699.6L1391.4 696.6L1386.8 691.9L1381.5 690.3L1374.9 690.3L1369.5 686L1364.2 686.5L1360.2 691.9L1354.9 694.5L1353.6 687.6L1357.6 683.8L1352.2 690.3L1349.6 695.5L1346.9 699.1L1341.6 704.6L1336.3 709.4L1331 712.8L1325.7 715.1L1319.5 716.9L1324.3 712.8L1329.6 710.4L1335 705.6L1339 700.6L1340.3 696.6L1336.3 696.6L1331 697.1L1327 695.5L1327 690.3L1321.7 687.6L1318.2 682.1L1316.3 679.3L1319 673.5L1324.3 672.4L1329.6 668.8L1329.6 663.9L1324.3 664.5L1319 664.5L1315 661.4ZM1429.9 743.5L1425.4 741.9L1421.4 738.6L1416.6 734.5L1418.8 733.2L1424.1 736.1L1428.1 739.8ZM1408.9 727.6L1404.7 722.8L1404.1 719.2L1407.3 719.7L1407.8 724.1ZM1346.9 705.6L1350.9 704.6L1353 701.6L1351.5 699.1L1348.3 701.6ZM1600.2 746.7L1603.6 741.9L1605.5 734.9L1608.9 730.7L1610.3 731.5L1607.6 737L1610.3 737.8L1614.3 739L1615.6 743.1L1617.5 747.1L1615.6 750.2L1611.6 749.4L1608.9 747.1L1605 746.7ZM1532.1 831.3L1537.1 828.1L1541.1 827.8L1545.1 828.4L1550.4 830.1L1554.4 833L1558.4 834.7L1560.5 836.1L1558.4 837L1551.8 837L1551 834.7L1547.8 832.4L1542.4 831L1538.5 829.5L1535.8 830.4ZM1560 840.9L1563.7 837L1567.7 837L1571.7 837.5L1575.7 840.6L1574.4 841.5L1570.4 841.5L1567.7 843.2L1565.1 841.8L1561.1 841.8ZM1549.6 841.5L1553.1 840.9L1555.2 842.3L1552.5 842.9ZM1579.1 841.2L1583.1 841.2L1582.9 842.3L1579.4 842.3ZM1594.3 651.7L1593 658.2L1587.7 662.7L1585 670.6L1583.7 675.3L1581 679.3L1575.7 676.5L1569 673.5L1566.4 667.6L1561.1 664.5L1551.8 665.8L1550.4 661.4L1561.1 658.2L1562.4 651.7L1563.7 641.4L1558.4 639.2L1553.1 630.4L1545.1 626.5L1531.8 622.6L1521.2 618.5L1518.5 601.3L1545.1 596.7L1558.4 605.8L1571.7 618.5L1577 626.5L1579.7 634.1L1587.7 644.9ZM1530.5 656.3L1534.5 659.5L1539.8 664.5L1543.8 670.6L1538.5 670.6L1533.1 672.4L1527.8 670L1526.5 665.8L1529.1 658.2ZM1445.4 622.6L1452 631.9L1456 637.1L1468 637.1L1478.6 634.8L1486.6 634.1L1489.2 626.5L1478.6 605.8L1446.7 601.3ZM1493.2 632.6L1498.6 637.1L1503.9 635.6L1502.5 628.1L1495.9 627.3ZM1743 788.2L1740.9 785.9L1738.2 784.3L1734 784.9L1734.5 781.6L1732.6 779.2L1734.2 774.7L1734.5 771.2L1734.2 767.7L1733.4 764.1L1736.6 761.5L1743.3 762.2L1748.6 762.6L1753.1 762.6L1754.7 758.5L1755 752.9L1752 748.2L1745.9 745.9L1745.4 743.1L1749.9 741.9L1753.9 742.7L1753.1 738.2L1755.2 739.4L1758.4 739L1761.9 736.1L1762.2 733.2L1764.6 732.4L1767.2 730.7L1769.1 727.6L1770.7 724.1L1773.9 721.9L1777.1 721L1780.5 721.5L1781.3 718.3L1780 712.8L1779.4 708L1779.7 705.1L1783.2 704.6L1785.8 702.1L1785.3 708L1784.5 712.8L1784 716L1787.2 717.8L1789.8 718.8L1793.8 717.4L1795.9 720.1L1800.5 718.3L1807.1 716L1809.8 717.8L1811.1 715.6L1813.8 713.7L1813.8 706.5L1815.1 703.1L1819.1 705.6L1822.5 704.6L1822.5 699.1L1820.4 696.6L1820.4 694.5L1825.7 692.4L1832.4 692.9L1837.7 690.3L1833.7 687.1L1827.1 688.1L1819.1 690.8L1815.1 687.1L1814.6 680.4L1814.3 673.5L1817.8 668.8L1824.4 661.4L1825.2 658.2L1821.7 656.3L1817 656.9L1815.1 664.5L1812.4 669.4L1807.1 673.5L1804.5 679.3L1803.7 686L1807.1 689.2L1807.9 692.9L1804.5 697.1L1801.8 701.6L1801.3 708L1797.8 709.9L1795.7 713.2L1792.5 713.2L1791.9 709L1789.8 703.1L1787.7 696.6L1786.1 692.9L1784.5 695.5L1780.5 699.6L1776.5 700.6L1772.8 696.6L1771.2 690.3L1771.2 682.1L1772.5 678.2L1776.5 674.1L1780.5 670.6L1784.5 667.6L1787.2 661.4L1791.2 655L1793.8 648.3L1797.8 641.4L1801.8 635.6L1807.1 630.4L1826.5 617.7L1837.7 626.5L1845.7 630.4L1867 648.3L1917.5 626.5L1917.5 923.2L1865.6 920.4L1865.9 931.4L1861.6 936.9L1855.8 939.7L1851 945.3L1852.3 951L1852.3 956.8L1845.7 961.2L1845.1 965.6L1844.1 970.8L1840.4 974.7L1837.7 979.4L1833.7 983.4L1829.7 986L1826.3 987.3L1820.4 987.6L1816.4 987.9L1811.1 989.8L1807.1 988.2L1806.6 984.1L1806.3 980.9L1804.5 976.3L1801.8 970.4L1799.1 965.6L1797.8 959.7L1796.5 952.5L1793.8 946.7L1791.2 941.1L1789.3 936.9L1789.8 932.7L1793.5 924.5L1794.6 920.4L1793.3 915L1791.2 908.3L1790.4 905.7L1787.2 901.6L1784 897.7L1781.8 893.7L1783.2 889.7L1783.4 885.7L1784 881.7L1781.8 879.8L1780.5 879L1776.5 879.3L1773.9 879.6L1771.2 875.5L1769.3 874.2L1764.6 874.2L1761.1 875L1756.6 876.9L1752.6 878.2L1748.6 877.4L1744.6 877.4L1738 879.3L1734 877.7L1730 874.5L1727.3 872.6L1724.7 871L1722.5 868.3L1722 865.6L1719.3 862.9L1718 861.6L1715.3 859.4L1713.5 857.5L1713.2 854.8L1711.4 851.5L1714 847.9L1714.5 843.7L1715.1 839.5L1714 836.7L1712.7 833.8L1714 829.5L1715.3 826.1L1718 822.3L1719.3 818.7L1722 815.8L1723.3 814L1727.3 811.9L1731.3 809.4L1732.1 805.7L1731.8 802.6L1734 798.6L1736.6 796.3L1739.8 794.4L1741.9 789.9L1742.2 788.9L1743.8 788.6L1747.3 790.9L1750.2 790.5L1752.6 791.2L1757.9 788.9L1760.6 786.6L1765.9 785.6L1771.2 785.6L1776.5 784.9L1781.8 784.3L1784.5 783.9L1787.2 784.9L1785.8 788.2L1786.6 791.5L1785 794.7L1787.2 796.3L1791.2 798.2L1797.8 800.1L1803.1 804.2L1808.4 806.4L1811.1 804.2L1811.1 799.5L1816.4 798.2L1820.4 800.4L1824.4 802.3L1829.7 803.3L1835 804.5L1840.4 802.6L1843.8 803.6L1848.9 803.3L1851 798.6L1852.6 793.1L1853.4 788.9L1854.2 786.3L1849.7 785.9L1847 787.9L1843.8 787.6L1839.6 785.6L1837.7 787.6L1833.7 785.9L1831.1 784.9L1830.3 781.6L1828.4 779.9L1829.2 777.1L1827.6 775.4L1827.6 773.7L1827.1 772.6L1821.7 771.6L1820.4 774L1819.1 773L1818.3 775.4L1819.1 778.2L1821.7 780.9L1819.6 781.9L1819.6 783.9L1818.5 786.6L1816.4 785.9L1814.6 783.3L1814.3 780.6L1811.6 776.5L1809.8 773L1809.8 768.7L1807.1 765.9L1803.1 763L1799.1 759.7L1796.5 755.9L1794.3 754.4L1790.6 755.5L1790.9 759.3L1793.8 761.9L1795.7 766.2L1800.5 768L1800.5 769.8L1805.8 772.6L1807.1 774.4L1803.1 773L1802.1 776.1L1803.4 778.5L1800.7 781.6L1799.7 781.6L1799.9 778.2L1799.1 774.7L1796.5 772.6L1792.5 770.5L1790.4 768.4L1787.2 766.2L1785.3 763L1784 760L1781.3 758.9L1777.9 761.1L1773.9 763.7L1770.7 762.6L1768 762.2L1765.9 764.1L1766.4 767.7L1763.2 770.2L1760 771.9L1757.9 775.4L1757.1 777.1L1758.4 779.2L1756 782.2L1753.1 784.9L1751.8 785.6L1746.2 785.9L1743.8 787.9ZM1742.7 737L1748.6 735.7L1755.2 734L1761.4 732.4L1761.9 726.3L1758.7 724.1L1757.9 721L1754.7 716.9L1753.6 712.8L1751.2 710.4L1752.6 704.1L1752.6 702.1L1748.6 702.1L1747.3 700.6L1749.9 697.6L1744.6 697.6L1742.5 703.1L1743.3 708L1743.3 712.8L1745.1 716L1748.6 715.6L1749.9 719.7L1749.9 722.4L1745.9 722.8L1745.9 725L1746.7 727.6L1744.1 729.4L1747.3 730.7L1749.9 731.5L1745.9 732.8ZM1741.9 727.6L1741.4 722.8L1742.5 717.4L1740.6 714.2L1736.6 714.2L1731.3 718.8L1731.8 722.8L1732.6 726.3L1730.5 729.4L1734 730.7L1736.6 729.4ZM1791.2 781.6L1799.4 780.9L1798.1 785.9L1791.2 782.9ZM1779.7 771.2L1783.7 771.2L1783.4 777.5L1780.5 778.2ZM1780.8 764.4L1783.2 764.8L1782.6 769.8L1781 768.4ZM1820.4 789.9L1827.9 790.9L1823.1 791.7ZM1843.8 791.5L1849.7 789.5L1847 792.5ZM1787.2 711.8L1791.2 709.9L1790.9 714.2L1788 714.6ZM1806.3 705.6L1808.4 701.1L1807.9 704.1ZM1342.7 836.1L1345.6 837.3L1344 839.5L1342.9 837.8ZM1692.7 658.2L1699.4 652.4L1704.7 656.9L1710 653.7L1715.3 651.7L1719.3 653.7L1722 661.4L1718 665.8L1710 671.2L1703.4 670.6L1698.1 668.2L1699.4 664.5L1694.1 662ZM1066.3 571.4L1092.9 591.9L1146.1 618.5L1172.7 605.8L1199.3 618.5L1225.9 628.8L1252.5 630.4L1268.5 630.4L1279.1 634.8L1292.4 644.9L1295.1 648.3L1300.4 651.7L1306.5 654.3L1303 658.2L1299.1 664.5L1296.4 665.8L1289.7 659.5L1281.8 655L1276.4 661.4L1273.8 664.5L1272.5 663.3L1276.4 671.8L1277 677.6L1271.1 676.5L1263.1 680.4L1257.8 684.9L1253.3 690.8L1247.2 687.6L1241.9 690.3L1237.9 691.3L1234.7 698.1L1233.9 702.1L1232.6 708L1234.7 709.4L1231.2 715.1L1230.7 717.4L1225.9 719.7L1225.9 723.3L1221.9 726.3L1219.2 730.7L1217.1 733.2L1215.3 728.5L1214.2 719.7L1214.2 710.4L1216.6 704.1L1220.6 699.1L1225.9 690.3L1229.9 686L1235.2 680.4L1237.9 676.5L1231.2 679.3L1227.2 681L1225.9 684.9L1217.9 681.6L1212.6 692.9L1207.3 694.5L1202 692.9L1196.6 692.9L1187.3 694L1180.7 694L1175.4 698.1L1170 703.1L1166.1 708L1162.1 715.1L1164.7 719.7L1168.7 720.6L1172.7 721.9L1176.2 723.3L1176.2 727.6L1174 732.8L1174 739L1172.7 743.9L1168.7 751L1163.4 756.7L1160.7 760.4L1154.1 764.8L1151.4 763.3L1148 766.6L1145.3 771.2L1140.8 774.7L1139.5 777.1L1141.6 779.5L1144.2 784.9L1144.5 789.9L1143.4 791.2L1139.5 792.8L1136.3 793.1L1136.8 789.9L1136.8 785.9L1137.3 782.9L1133.6 782.2L1132.8 779.2L1133.6 776.5L1130.9 774.7L1124.8 773L1123.5 778.2L1125.4 773L1122.7 771.6L1116.8 777.5L1113.4 778.2L1116.3 781.6L1116.8 783.9L1121.4 782.2L1126.2 783.6L1126.2 785.6L1120.3 788.2L1117.6 791.5L1120 793.8L1121.9 797.9L1124.3 802L1124.6 804.5L1122.2 806.4L1124.8 807.9L1123.5 811.9L1120.8 815.8L1118.4 819.9L1116 823.2L1113.6 825.2L1110.7 827.2L1106.2 829L1102.2 830.4L1092.9 833.8L1066.3 833.8ZM1176.7 769.8L1178 776.5L1175.4 781.6L1175.4 785.6L1174.8 789.2L1172.2 791.5L1169.5 792.5L1164.7 792.8L1162.1 796.3L1159.4 795.4L1159.4 792.8L1154.1 793.8L1148.8 794.7L1148.8 793.4L1152.8 790.2L1158.1 789.5L1162.1 789.2L1164.2 784.9L1165.5 783.3L1168.7 783.6L1171.4 779.9L1172.7 775.4L1172.7 771.9L1175.4 770.2ZM1172.7 769.5L1173.5 763.3L1176.7 763L1177.2 755.2L1180.7 758.5L1186.8 759.3L1187.3 763L1182 767.7L1176.7 765.9L1175.4 768.7ZM1146.1 796.3L1150.6 796L1150.1 801.1L1148 804.2L1146.6 801.1L1145.3 797.9ZM1152.8 795.4L1158.1 794.1L1157.5 796.3L1154.1 798.6ZM1178 718.3L1180.7 721.9L1181.5 728.5L1181.2 737L1184.7 741.1L1180.7 745.1L1182 751L1179.3 752.9L1178 747.1L1178 739L1178 730.7L1177.2 722.8ZM1122.2 821.7L1124.8 822.3L1123.5 826.7L1121.6 831L1119.8 828.1L1120.8 823.7ZM1120.8 840.9L1125.4 840.9L1125.6 845.1L1123.5 847.9L1124.8 852L1130.1 854.8L1130.1 856.7L1126.2 853.9L1122.2 854.2L1120.8 852L1119.5 847.9L1120.3 843.7ZM1124.8 872.3L1128.8 868.3L1134.1 865.6L1136.8 869.7L1136 873.7L1134.1 875.5L1130.1 873.7L1127.5 871ZM1124.8 860.2L1128.8 857.5L1134.1 858L1134.1 862.9L1130.1 864.8L1126.9 865.6L1125.6 862.9ZM1112.1 868.8L1115.5 865.6L1118.4 860.7L1117.6 863.7L1114.2 867.5ZM1111.5 872.3L1116.8 876.9L1114.2 879.6L1113.4 883L1114.2 887L1112.8 889.7L1112.8 893.7L1110.2 896.3L1109.4 900.3L1104.9 901.6L1092.9 899L1090.2 887L1095.6 885.7L1100.9 881.7L1106.2 877.7L1108.9 873.7ZM1119.5 888.3L1122.2 887.5L1127.5 888.3L1132.8 886.5L1131.5 889.7L1127.5 889.7L1122.2 889.7L1120 891L1120.8 893.7L1123.5 893.7L1128.3 893.1L1124.8 895.8L1123.5 896.3L1125.6 900.3L1127.5 903L1126.2 905.1L1123.5 903L1121.6 899L1120.6 901.6L1120.3 905.7L1118.2 905.7L1118.2 900.3L1116.3 898.2L1117.6 895L1119 891ZM1148.8 893.1L1152.8 892.1L1156.7 893.1L1157.3 897.7L1160.7 899.8L1163.4 896.9L1167.4 895.3L1172.7 897.1L1176.7 898.2L1182 900.3L1186 902.4L1188.7 905.7L1192.7 907L1192.1 909.1L1195.3 913.7L1199.3 918.5L1200.6 919.4L1194 918.3L1190 915L1186 911.8L1182 913.2L1179.3 915.6L1175.4 915.3L1171.4 912.6L1167.4 913.2L1168.7 909.7L1167.4 905.7L1162.1 903.2L1156.7 901.4L1154.1 901.6L1152.8 899L1155.4 897.1L1151.4 896.9L1148.8 894.7ZM1195.3 905.7L1200.6 905.4L1205.2 902.4L1204.6 905.1L1200.6 907.5L1196.6 907.5ZM1111 913.4L1116.8 913.2L1116.8 914.5L1111.5 915ZM1119 913.4L1127.5 912.9L1126.9 914.5L1119.5 914.8ZM1128.8 918.5L1132.8 915.8L1138.1 913.4L1136.8 915.6L1131.5 918.3ZM1139.5 885.7L1142.1 887L1142.6 890.2L1140.2 892.9L1139.7 888.9ZM1140.8 899L1148.2 899.5L1147.4 900.8L1141.3 900.3ZM1103.5 951L1102.2 956.8L1102.2 962.7L1104.9 970.1L1106.2 976.3L1108.1 980.9L1106.2 988.2L1110.2 990.5L1114.2 990.5L1119.5 987.3L1124.8 987.3L1130.1 985.7L1135.5 981.9L1142.1 980.9L1148.8 979.4L1154.1 981.6L1158.1 984.1L1160.7 989.8L1162.1 988.9L1166.1 984.1L1166.8 982.8L1166.1 987.3L1164.7 991.1L1167.4 988.9L1168.7 992.1L1171.4 993.8L1172.7 998.7L1176.7 1001.4L1182 1003.1L1185.5 1000.4L1189.5 1003.8L1192.7 1000.4L1198.8 998.7L1199.8 993.8L1201.4 989.8L1202.8 986.6L1206 981.9L1207.3 976.3L1208.6 970.1L1207.8 965.6L1207.3 961.2L1204.6 958.3L1202 955.3L1199.3 951.9L1196.6 948.2L1194 945.3L1190 942.5L1188.7 938.3L1186.8 934.1L1186.5 930.8L1183.3 929.4L1182 925.3L1180.1 920.4L1179.3 919.6L1178 923.2L1177 928.6L1176.7 934.1L1174.8 938.3L1171.4 938.3L1167.4 935.5L1163.4 932.7L1160.7 930.8L1162.1 927.2L1164.2 923.7L1160.7 923.2L1155.4 922.3L1151.4 921.3L1148.8 923.7L1146.6 925.9L1144.8 930.8L1141.3 930.8L1138.1 928.6L1134.1 929.4L1131.5 932.7L1128.8 936.9L1125.4 938.3L1124.8 941.1L1122.2 943.9L1116.8 945.3L1111.5 947.3L1107.5 949.6ZM1185.2 1010.1L1190 1011.1L1194.5 1010.4L1194.8 1015L1192.7 1019L1188.7 1019.8L1186.8 1016.1ZM1259.7 988.6L1261.8 991.1L1265.3 996.4L1267.1 996.1L1268.5 999.1L1273.8 999.1L1274.6 1002.1L1271.1 1004.9L1270.6 1008.3L1266.6 1012.9L1265 1011.8L1265.8 1008L1262.6 1004.9L1264.7 1002.1L1265 998.7L1263.1 994.8L1260.5 991.1ZM1259.7 1009L1263.7 1011.5L1263.1 1014.3L1259.9 1019.4L1256 1022.7L1254.6 1028.4L1251.2 1031.4L1247.2 1031L1243.2 1029.1L1245.8 1024.6L1249.8 1020.9L1255.2 1016.1L1257.8 1010.8ZM1236.5 945.6L1240.5 948.2L1244.5 951.9L1242.7 951.9L1237.9 948.2ZM1271.9 938.3L1275.4 938.6L1275.1 940.2L1272.2 940.2Z" fill="#aee3be" stroke="#aee3be" stroke-width="0.8" stroke-linejoin="round"/>
<g clip-path="url(#landclip)"><path d="M1481.3 741.1L1502.5 739L1518.5 752.9L1523.8 767.7L1518.5 784.9L1507.9 797.9L1497.2 810.3L1489.2 807.3L1483.9 791.5L1478.6 771.2ZM1412.1 641.4L1438.7 648.3L1465.3 651.7L1491.9 651.7L1505.2 670.6L1502.5 687.6L1481.3 687.6L1460 676.5L1433.4 664.5L1406.8 655ZM1550.4 679.3L1566.4 682.1L1582.3 698.1L1571.7 705.6L1555.7 703.1ZM1332.3 641.4L1358.9 637.8L1380.2 641.4L1372.2 651.7L1342.9 651.7ZM1321.7 679.3L1337.6 676.5L1342.9 687.6L1332.3 692.9L1321.7 687.6ZM1821.7 734.9L1853.7 726.3L1864.3 737L1864.3 751L1837.7 751L1821.7 747.1ZM1587.7 977.8L1603.6 977.8L1605 993.8L1593 1002.1L1585 993.8ZM1624.9 923.2L1640.9 923.2L1646.2 936.9L1635.5 948.2L1619.6 942.5ZM1712.7 846.5L1744.6 845.1L1779.2 847.9L1811.1 850.6L1837.7 853.4L1853.7 852L1853.7 858.8L1811.1 860.2L1771.2 857.5L1736.6 856.1L1712.7 854.8ZM1803.1 945.3L1827.1 942.5L1835 956.8L1827.1 971.7L1811.1 974.7L1804.5 962.7ZM1749.9 774.7L1757.9 769.5L1755.2 779.9L1747.3 781.6ZM1832.4 776.5L1853.7 774.7L1856.3 781.6L1837.7 783.3ZM1146.1 641.4L1186 626.5L1225.9 634.1L1265.8 641.4L1292.4 651.7L1273.8 667.6L1239.2 667.6L1199.3 670.6L1172.7 661.4L1146.1 655ZM1114.2 728.5L1140.8 724.1L1154.1 737L1140.8 752.9L1119.5 752.9ZM1111.5 788.2L1118.2 786.6L1116.8 797.9L1111.5 799.5ZM1172.7 987.3L1188.7 984.1L1196.6 974.7L1194 962.7L1183.3 956.8L1175.4 968.6Z" fill="#d3f0d8" opacity="0.75" filter="url(#soft)"/><path d="M1712.7 833.8L1715.3 825.2L1723.3 814.9L1731.3 810.3L1732.6 805.7L1741.9 801.1L1752.6 796.3L1763.2 793.1L1773.9 793.1L1781.8 795.4L1785 794.7L1787.2 796.3L1791.2 798.2L1797.8 800.1L1803.1 804.2L1808.4 806.4L1811.1 804.2L1811.1 800.4L1816.4 799.5L1820.4 800.4L1824.4 802.3L1829.7 803.3L1835 804.5L1840.4 802.6L1843.8 803.6L1848.9 803.3L1850.7 808.8L1844.4 807.3L1847.5 815.5L1852.3 825.8L1857.1 835.3L1860.3 842.3L1856.3 845.1L1851 852L1837.7 854.8L1821.7 853.9L1811.1 852L1795.1 850.6L1779.2 849.3L1763.2 847.9L1747.3 846.5L1731.3 846.5L1714.5 845.1ZM1848.9 803.3L1851 798.6L1855 796.3L1917.5 797.9L1917.5 856.1L1872.3 856.1L1869.6 850.6L1863 839.5L1860.3 832.4L1856.3 825.2L1852.3 819.3L1851 813.4L1850.5 808.8ZM1789.3 936.9L1791.2 941.1L1793.8 946.7L1796.5 952.5L1797.8 959.7L1799.1 965.6L1801.8 970.4L1804.5 976.3L1806.3 980.9L1811.1 982.5L1817.8 977.8L1821.7 970.1L1823.1 959.7L1816.4 951L1808.4 945.3L1797.8 939.7ZM1440 786.6L1439.2 774.7L1442.7 765.9L1449.3 764.8L1456 771.2L1458.7 779.9L1456 789.9L1460 797.9L1469.3 801.1L1474.6 799.5L1478.6 807.3L1482.6 813.4L1485.2 820.8L1479.9 820.8L1474.6 811.9L1466.6 804.8L1458.7 801.7L1452.5 799.2L1448 794.7ZM1446.4 799.5L1452.5 802.3L1452.8 805.7L1456 810.3L1458.1 813.4L1460.5 817.9L1462.6 820.8L1464.5 824.3L1466.6 827.2L1465.6 828.4L1464 826.7L1460 823.5L1459.2 819.3L1455.5 817L1452.5 814.3L1454.1 812.5L1452 809.7L1449.9 806.7L1448 803.3ZM1570.9 940.8L1571.4 946.7L1570.6 955.3L1570.1 959.7L1568.2 968.6L1567.7 974.7L1571.7 974.7L1575.7 965.6L1578.4 953.9L1577 943.9L1574.4 939.1L1569 935.5L1558.4 928.6L1552.8 923.4L1547.8 912.3L1542.4 907L1541.6 903L1544.3 904.3L1549.1 913.7L1554.4 924.5L1558.4 930.8L1565.1 935.5ZM1585 1010.1L1588.2 1011.1L1584.7 1014.3L1588.7 1016.1L1584.2 1019.8L1583.7 1025.3L1578.6 1028.4L1578.1 1031L1582.3 1033.8L1582.6 1036.9L1578.4 1042.2L1575.7 1045.9L1573.8 1049.2L1576 1054.8L1569 1053.5L1566.4 1040.9L1568.2 1025.3L1569 1012.5L1573 1000.4L1575.7 987.3L1578.4 977.8L1582.3 979.4L1582.3 990.5L1581 1002.1ZM1103.5 951L1102.2 956.8L1102.2 962.7L1104.3 967.1L1111.5 970.1L1118.2 977.8L1127.5 982.5L1135.5 981.9L1142.1 980.9L1148.8 979.4L1154.1 981.6L1158.1 984.1L1162.1 987.3L1166.8 983.4L1172.7 985.7L1179.3 987.3L1184.7 980.9L1188.7 973.2L1188.7 962.7L1184.7 953.9L1179.3 946.7L1172.7 942.5L1164.7 939.7L1155.4 936.9L1146.1 936.9L1138.1 938.3L1130.1 941.1L1124.8 941.1L1122.2 943.9L1116.8 945.3L1111.5 947.3L1107.5 949.6ZM1066.3 745.1L1087.6 747.1L1103.5 749L1115.5 751L1118.2 760.4L1111.5 766.6L1100.9 771.2L1087.6 776.5L1066.3 778.2ZM1692.7 658.2L1699.4 652.4L1704.7 656.9L1710 653.7L1715.3 651.7L1719.3 653.7L1722 661.4L1718 665.8L1710 671.2L1703.4 670.6L1698.1 668.2L1699.4 664.5L1694.1 662Z" fill="#f6f0e0" filter="url(#soft)"/><path d="M1558.4 651.7L1569 644.9L1582.3 648.3L1587.7 655L1582.3 658.2L1571.7 653.7ZM1385.5 688.7L1393.5 692.9L1401.5 697.6L1397.5 692.9L1388.2 687.1L1380.2 686ZM1358.9 682.1L1369.5 683.2L1377.5 687.6L1369.5 684.9ZM1706 663.3L1712.7 662L1715.9 665.8L1711.4 667.6Z" fill="#ffffff" opacity="0.9" filter="url(#soft1)"/></g>
<path d="M1622.5 637.8L1620 646L1617.8 655L1620 664L1623.5 672L1628 680L1632.5 685.5L1636.6 688L1640 686L1642.5 680L1645 672L1649 661L1655 655L1661 651L1668 646L1676 641L1686 636L1690 630L1618 630Z" fill="#ffffff" stroke="#fff" stroke-width="0.8"/>
<path d="M1832.4 770.2L1832.4 764.1L1834 760.4L1836.9 755.9L1839 751.7L1843 751L1847 752.9L1845.7 755.5L1847 758.5L1852.3 756.7L1855 755.5L1851 751.7L1856.3 749L1861.6 749L1859 752.9L1857.7 756.7L1861.6 760.4L1868.3 765.9L1868.3 769.5L1861.6 771.2L1855 770.2L1851 767.7L1845.7 767.7L1840.4 770.5L1835 770.5ZM1844.4 807.3L1845.1 810.3L1847.3 813.4L1849.1 814L1850.5 808.8L1851 813.4L1852.3 819.3L1856.3 825.2L1860.3 832.4L1863 839.5L1869.6 850.6L1872.3 856.1L1871 856.1L1864.3 849.3L1860.3 842.3L1857.1 835.3L1855.8 831L1852.3 825.8L1849.7 820.8L1847.5 815.5L1845.7 812.5L1844.1 808.5ZM1513.2 749.8L1519.8 745.1L1523.8 741.9L1529.1 745.1L1532.6 749.4L1531.8 751L1526.5 751L1522.5 749L1517.2 750.2ZM1524.4 767.7L1524.1 760.4L1527.8 753.3L1531.8 753.6L1529.1 758.5L1528.3 764.1L1527 768.4ZM1533.1 753.3L1537.1 752.9L1542.4 753.6L1545.1 757.4L1540.6 763.3L1538.5 764.1L1535.8 760.4L1536.3 756.7ZM1536.3 768.4L1539.8 769.5L1547.8 765.2L1545.6 764.4L1541.1 765.5L1537.1 767ZM1545.6 763L1550.4 763L1554.9 761.9L1554.4 760L1550.4 760.4L1546.4 761.1ZM1446.7 684.9L1453.3 684.9L1460 679.3L1466.6 674.7L1462.6 674.1L1456 677.6L1449.3 682.1ZM1425.4 660.1L1430.7 661.4L1437.4 656.3L1444 653L1441.4 648.3L1433.4 651.7L1426.7 655ZM1494.6 734.9L1500.4 734.9L1499.9 728.5L1497.8 720.6L1494.6 721.9L1496.4 728.5ZM1461.3 697.6L1468 695.5L1469.3 693.5L1464 694.5ZM1842.5 892.3L1845.7 890.2L1848.9 891.8L1847.8 897.1L1844.4 897.9L1842.5 895ZM1835.6 900L1837.2 903L1839.6 911L1840.4 914.2L1838.8 913.7L1836.6 907ZM1848.3 916.7L1850.5 921.8L1851.5 928.6L1849.9 928.6L1848.9 923.2ZM1844.9 825.8L1845.7 828.1L1842.5 830.4L1841.7 829.8L1844.4 828.1ZM1839 689.2L1841.7 681.6L1845.7 684.9L1844.4 689.2ZM1849.7 684.9L1851.8 676.5L1854.5 680.4L1852.3 685.4ZM1845.7 651.7L1851 651.7L1859 655L1864.3 651.7L1867 661.4L1859 667.6L1855 664.5L1851 665.8L1849.7 658.2Z" fill="#a6d3fb"/>
<line x1="1111" y1="891" x2="1855" y2="891" stroke="#7f7fb8" stroke-width="1.2" opacity="0.9"/>
</g>
<g clip-path="url(#mapclip)">
<text x="1433" y="724.6" font-size="15.4" fill="#5b5b5b" textLength="117.4" lengthAdjust="spacingAndGlyphs" stroke="#ffffff" stroke-opacity="0.7" stroke-width="2.2" stroke-linejoin="round" paint-order="stroke">NORTH AMERICA</text>
<text x="1565.3" y="934" font-size="15.4" fill="#5b5b5b" textLength="116.8" lengthAdjust="spacingAndGlyphs" stroke="#ffffff" stroke-opacity="0.7" stroke-width="2.2" stroke-linejoin="round" paint-order="stroke">SOUTH AMERICA</text>
<text x="1794" y="733.6" font-size="15.4" fill="#5b5b5b" textLength="54.2" lengthAdjust="spacingAndGlyphs" stroke="#ffffff" stroke-opacity="0.7" stroke-width="2.2" stroke-linejoin="round" paint-order="stroke">EUROPE</text>
<text x="1800" y="876.5" font-size="15.4" fill="#5b5b5b" textLength="49.7" lengthAdjust="spacingAndGlyphs" stroke="#ffffff" stroke-opacity="0.7" stroke-width="2.2" stroke-linejoin="round" paint-order="stroke">AFRICA</text>
<text x="1139" y="951.8" font-size="15.4" fill="#5b5b5b" textLength="77.2" lengthAdjust="spacingAndGlyphs" stroke="#ffffff" stroke-opacity="0.7" stroke-width="2.2" stroke-linejoin="round" paint-order="stroke">AUSTRALIA</text>
<text x="1276" y="804.2" font-size="14" font-style="italic" fill="#4a76a6" stroke="#4a76a6" stroke-width="0.3" letter-spacing="0.35">Pacific Ocean</text>
<text x="1602.5" y="807.3" font-size="14" font-style="italic" fill="#4a76a6" stroke="#4a76a6" stroke-width="0.3" letter-spacing="0.45">Atlantic Ocean</text>
<g fill="#118DFF" stroke="#0b5bb0" stroke-width="1.2">
<circle cx="1449.7" cy="675.9" r="5.4"/>
<circle cx="1425" cy="728" r="5.4"/>
<circle cx="1482.1" cy="744.8" r="5.4"/>
<circle cx="1520" cy="744.4" r="5.4"/>
<circle cx="1524.1" cy="764.8" r="5.4"/>
<circle cx="1534.4" cy="765.4" r="5.4"/>
<circle cx="1545.6" cy="761.9" r="5.4"/>
<circle cx="1548.4" cy="766" r="5.4"/>
<circle cx="1559.1" cy="774" r="5.4"/>
<circle cx="1562.5" cy="770" r="5.4"/>
<circle cx="1565.6" cy="768.1" r="5.4"/>
<circle cx="1568.1" cy="766.9" r="5.4"/>
<circle cx="1533.8" cy="776.2" r="5.4"/>
<circle cx="1525" cy="780.4" r="5.4"/>
<circle cx="1533.8" cy="786.2" r="5.4"/>
<circle cx="1518.1" cy="791.6" r="5.4"/>
<circle cx="1533.5" cy="796.2" r="5.4"/>
<circle cx="1434.8" cy="782.5" r="5.4"/>
<circle cx="1443.4" cy="795.4" r="5.4"/>
<circle cx="1460.4" cy="797.9" r="5.4"/>
<circle cx="1495" cy="798.4" r="5.4"/>
<circle cx="1501.2" cy="799.1" r="5.4"/>
<circle cx="1504.1" cy="808.5" r="5.4"/>
<circle cx="1515.2" cy="806.9" r="5.4"/>
<circle cx="1338.5" cy="832.9" r="5.4"/>
<circle cx="1745.6" cy="702.2" r="5.4"/>
<circle cx="1749.4" cy="708.8" r="5.4"/>
<circle cx="1746" cy="716.9" r="5.4"/>
<circle cx="1738.1" cy="719.8" r="5.4"/>
<circle cx="1753.8" cy="723.1" r="5.4"/>
<circle cx="1748.8" cy="729.8" r="5.4"/>
<circle cx="1753.5" cy="736.2" r="5.4"/>
<circle cx="1751.9" cy="740" r="5.4"/>
<circle cx="1760.6" cy="740.6" r="5.4"/>
<circle cx="1763.5" cy="743.5" r="5.4"/>
<circle cx="1770.6" cy="725.6" r="5.4"/>
<circle cx="1770" cy="729.4" r="5.4"/>
<circle cx="1781.2" cy="724.4" r="5.4"/>
<circle cx="1783.1" cy="723.8" r="5.4"/>
<circle cx="1792.5" cy="726.6" r="5.4"/>
<circle cx="1790" cy="735.6" r="5.4"/>
<circle cx="1788.8" cy="740.6" r="5.4"/>
<circle cx="1774.4" cy="739.4" r="5.4"/>
<circle cx="1777.5" cy="745.6" r="5.4"/>
<circle cx="1783.8" cy="746.9" r="5.4"/>
<circle cx="1770" cy="755" r="5.4"/>
<circle cx="1762.9" cy="760.4" r="5.4"/>
<circle cx="1791.2" cy="768.8" r="5.4"/>
<circle cx="1795.2" cy="780" r="5.4"/>
<circle cx="1170.7" cy="990.8" r="5.4"/>
<circle cx="1179" cy="998.3" r="5.4"/>
<circle cx="1196.4" cy="983.9" r="5.4"/>
<circle cx="1200.3" cy="989.4" r="5.4"/>
<circle cx="1204.3" cy="987" r="5.4"/>
</g>
<rect x="1124.6" y="1013.8" width="9.1" height="9.1" fill="#f25022"/><rect x="1134.8" y="1013.8" width="9.1" height="9.1" fill="#7fba00"/><rect x="1124.6" y="1024" width="9.1" height="9.1" fill="#00a4ef"/><rect x="1134.8" y="1024" width="9.1" height="9.1" fill="#ffb900"/>
<text x="1148.6" y="1029.1" font-size="15.9" fill="#6f7376" stroke="#6f7376" stroke-width="0.35">Microsoft Azure</text>
<text x="1702.8" y="1028.8" font-size="11.9" fill="#10151c">©2026 TomTom</text>
<text x="1792.2" y="1028.8" font-size="11.4" fill="#10151c">Feedback</text>
<rect x="1792.2" y="1031.6" width="49.8" height="2" fill="#10151c"/>
</g>
</g>
<g id="watermark">
<g fill="#dedede" fill-opacity="0.86">
<text x="959.5" y="1070.5" font-family='"DejaVu Sans", sans-serif' font-weight="bold" font-size="74" text-anchor="middle" direction="rtl" textLength="213" lengthAdjust="spacingAndGlyphs">نفذلي</text>
<text x="862.5" y="1116" font-size="36" font-weight="bold" textLength="195.5" lengthAdjust="spacingAndGlyphs">nafezly.com</text>
</g>
</g>
</svg>
</body></html>
